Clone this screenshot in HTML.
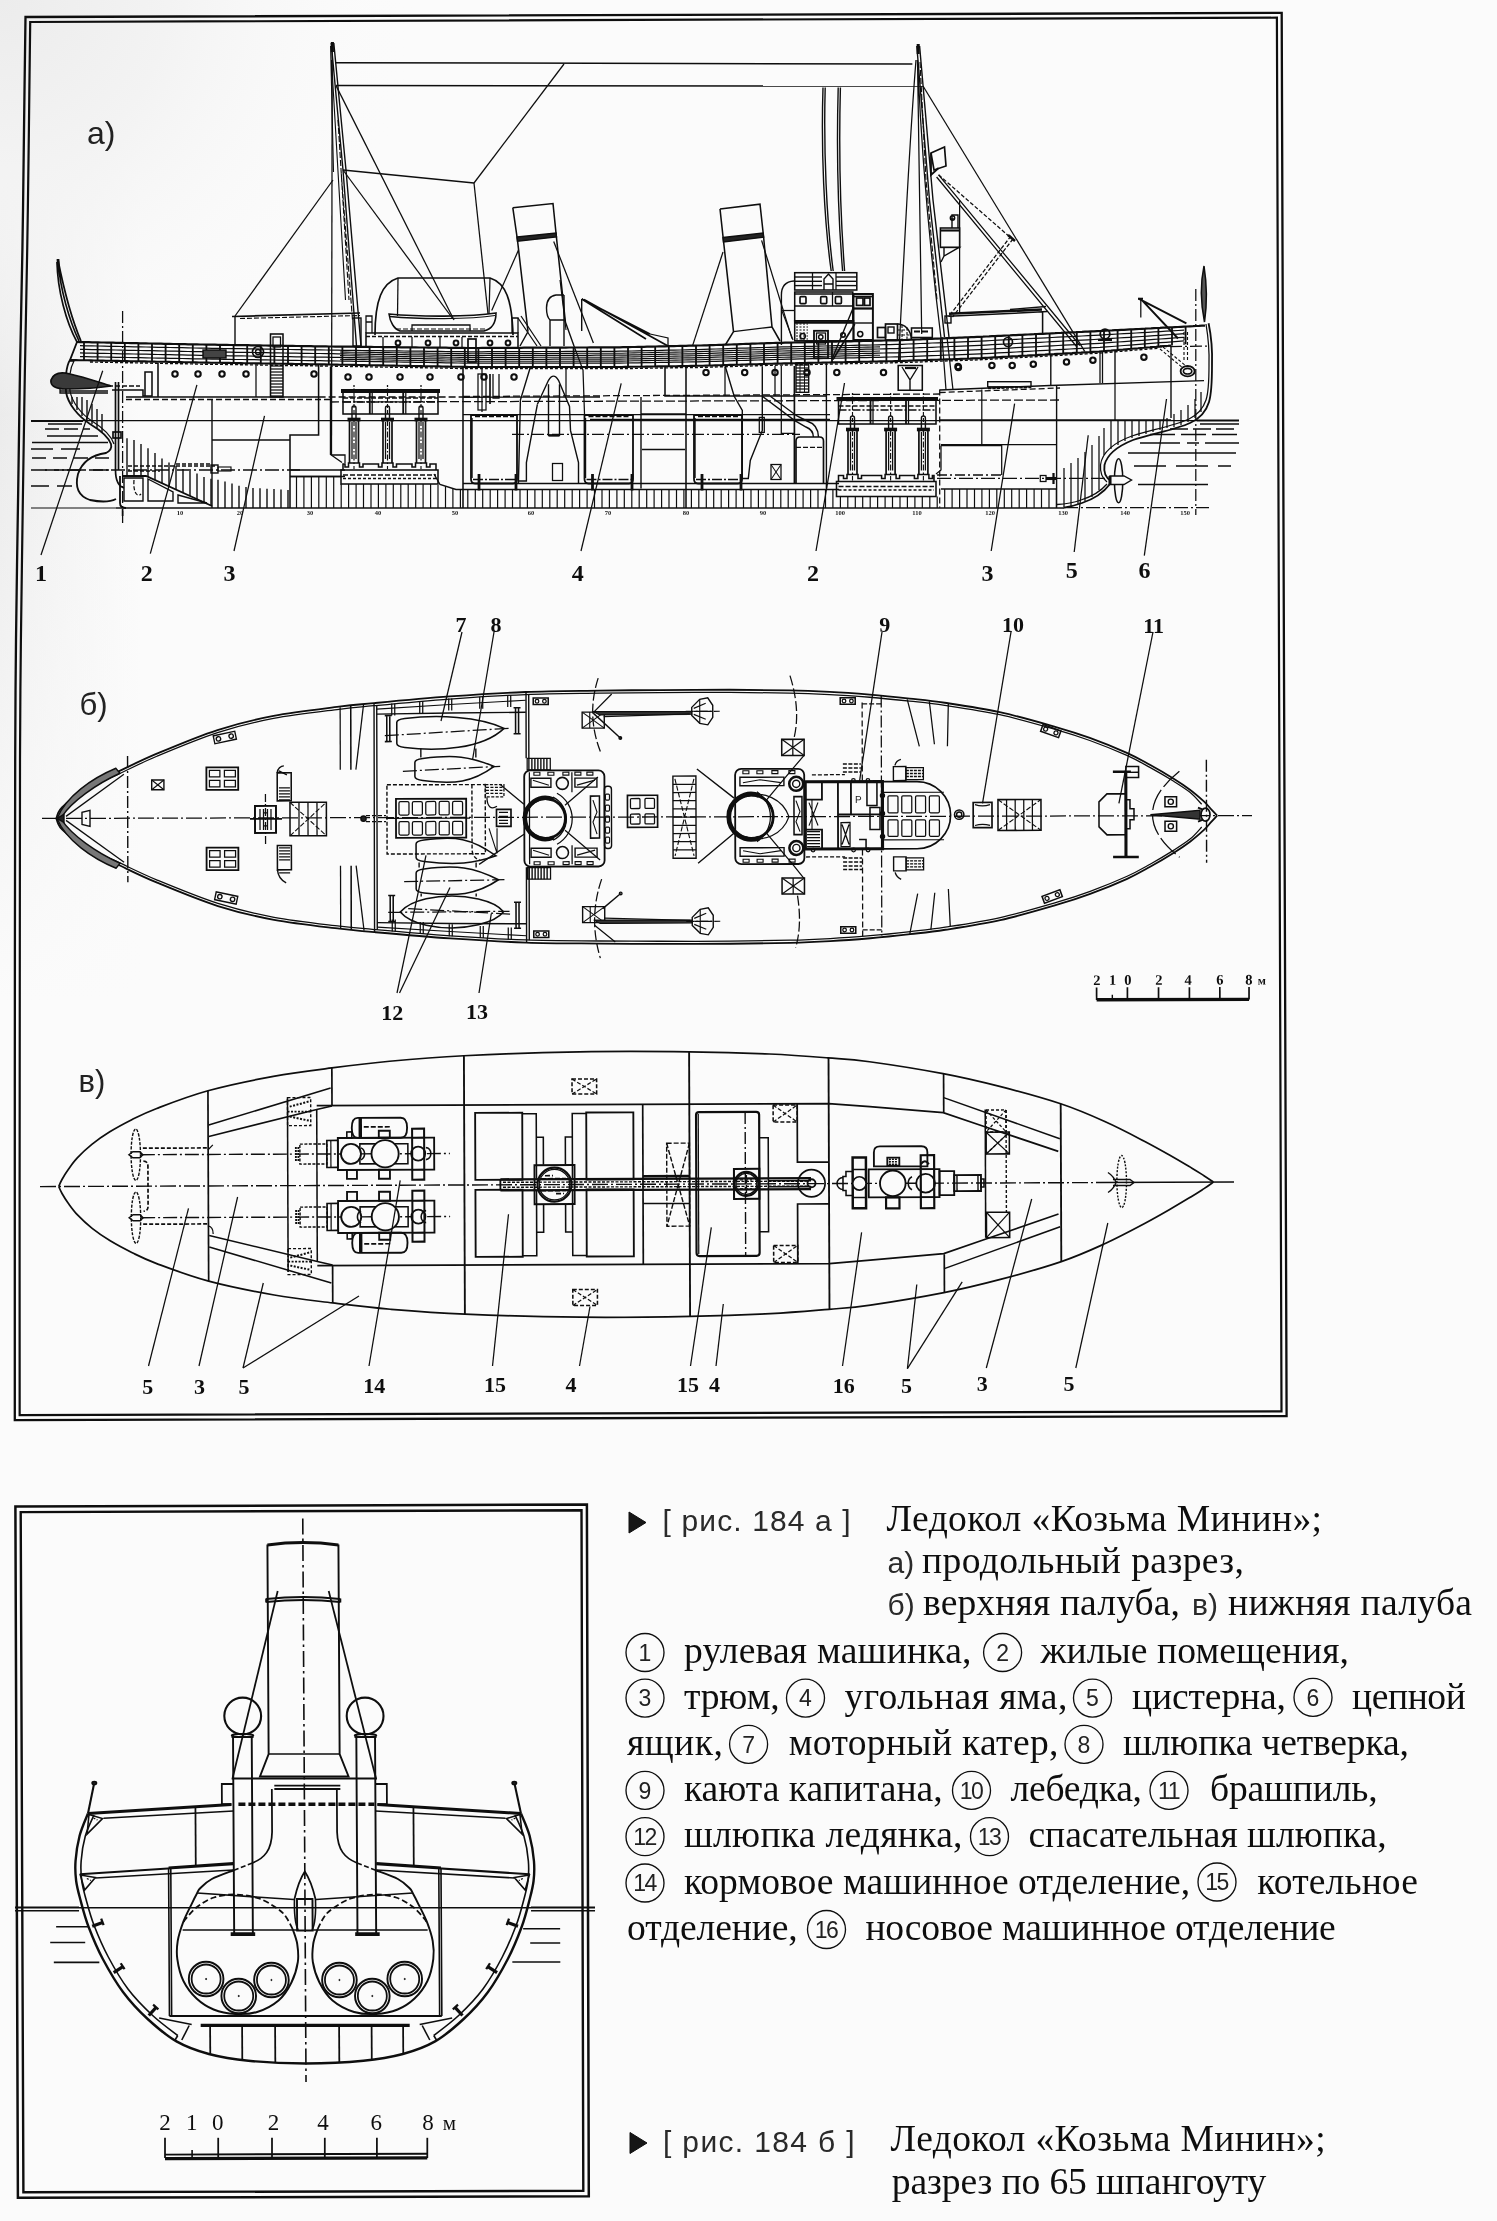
<!DOCTYPE html>
<html lang="ru"><head><meta charset="utf-8"><title>Ледокол «Козьма Минин»</title>
<style>
html,body{margin:0;padding:0;background:#fbfbfb;}
body{width:1497px;height:2221px;overflow:hidden;font-family:"Liberation Serif",serif;}
svg{display:block;filter:blur(0.35px);}
</style></head><body>
<svg width="1497" height="2221" viewBox="0 0 1497 2221">
<defs><linearGradient id="lg" x1="0" y1="0" x2="1" y2="0"><stop offset="0" stop-color="#ebebeb"/><stop offset="0.45" stop-color="#f3f3f3"/><stop offset="1" stop-color="#fbfbfb"/></linearGradient>
<linearGradient id="vg" x1="0" y1="0" x2="0" y2="1"><stop offset="0" stop-color="#fbfbfb" stop-opacity="0"/><stop offset="1" stop-color="#fbfbfb" stop-opacity="1"/></linearGradient>
<radialGradient id="rg" gradientUnits="userSpaceOnUse" cx="0" cy="0" r="420"><stop offset="0" stop-color="#ececec"/><stop offset="0.4" stop-color="#f3f3f3"/><stop offset="1" stop-color="#fbfbfb" stop-opacity="0"/></radialGradient></defs>
<rect x="0" y="0" width="1497" height="2221" fill="#fbfbfb" stroke="none"/>
<rect x="0" y="0" width="140" height="1000" fill="url(#lg)" stroke="none"/>
<rect x="0" y="400" width="140" height="600" fill="url(#vg)" stroke="none"/>
<rect x="0" y="0" width="420" height="420" fill="url(#rg)" stroke="none"/>
<g fill="none" stroke="#0e0e0e" stroke-width="1">
<g >
<path d="M14.8 1420.1C14.8 1383.4 14.8 1278.3 14.8 1200C14.8 1121.7 14.8 1023.3 14.9 950C15 876.7 15 811.7 15.2 760C15.4 708.3 15.5 685 16 640C16.5 595 17.5 535 18.2 490C18.9 445 19.3 410 20 370C20.7 330 21.7 290 22.4 250C23.1 210 23.5 168.8 24 130C24.5 91.2 25.2 35.8 25.5 17L1281.7 12.9 L1286.6 1416 Z" stroke-width="2.3"/>
<path d="M19.65 1415.1C19.6 1379.2 19.6 1277.5 19.6 1200C19.7 1122.5 19.7 1023.3 19.8 950C19.8 876.7 19.9 811.7 20 760C20.2 708.3 20.4 685 20.9 640C21.4 595 22.4 535 23 490C23.7 445 24.2 410 24.9 370C25.6 330 26.6 290 27.2 250C27.9 210 28.4 168 28.9 130C29.3 92 30 40 30.2 22L1276.9 17.7 L1281.5 1411.3 Z" stroke-width="2.2"/>
<path d="M15.4 1506.5L586.9 1504.6L588.8 2196.3L17.9 2197.8Z" stroke-width="2.5"/>
<path d="M20.7 1512.1L581.5 1510.2L583.3 2190.8L23.4 2192.3Z" stroke-width="2.4"/>
</g>
<g >
<path d="M31 421L83 421" stroke-width="2.24"/>
<path d="M83 420.6L1197 420.6" stroke-width="1.26"/>
<path d="M48 424L82 424" stroke-width="1.26"/>
<path d="M45 429L90 429" stroke-width="1.26" stroke-dasharray="14 5"/>
<path d="M47 436L98 436" stroke-width="1.26"/>
<path d="M32 442.5L108 442.5" stroke-width="1.26"/>
<path d="M31 449L80 449" stroke-width="1.26" stroke-dasharray="22 8"/>
<path d="M32 458L110 458" stroke-width="1.26" stroke-dasharray="14 7"/>
<path d="M31 470L112 470" stroke-width="1.26" stroke-dasharray="16 7 30 9"/>
<path d="M31 486L72 486" stroke-width="1.26" stroke-dasharray="18 8"/>
<path d="M1197 420.5L1239 420.5" stroke-width="2.24"/>
<path d="M1200 424L1239 424" stroke-width="1.26"/>
<path d="M1170 429L1239 429" stroke-width="1.26" stroke-dasharray="18 5"/>
<path d="M1150 434.5L1239 434.5" stroke-width="1.26" stroke-dasharray="25 6"/>
<path d="M1140 443L1239 443" stroke-width="1.26" stroke-dasharray="40 7 12 6"/>
<path d="M1128 453L1236 453" stroke-width="1.26"/>
<path d="M1134 466L1231 466" stroke-width="1.26" stroke-dasharray="32 10"/>
<path d="M1138 484.5L1208 484.5" stroke-width="1.26"/>
<path d="M116 508L1064 508" stroke-width="1.4"/>
<path d="M31 508L116 508" stroke-width="1.12"/>
<path d="M1064 507.7L1209 507.7" stroke-width="1.26" stroke-dasharray="14 3 2 3"/>
<path d="M122.6 311L122.6 526" stroke-width="1.26" stroke-dasharray="12 3 2 3"/>
<path d="M1195.8 289L1195.8 515" stroke-width="1.26" stroke-dasharray="12 3 2 3"/>
<path d="M77 342L80 342.1L83 342.1L86 342.2L89 342.2L92 342.3L95 342.4L98 342.4L101 342.5L104 342.5L107 342.6L110 342.7L113 342.7L116 342.8L119 342.9L122 342.9L125 343L128 343L131 343.1L134 343.2L137 343.2L140 343.3L143 343.3L146 343.4L149 343.5L152 343.5L155 343.6L158 343.6L161 343.7L164 343.8L167 343.8L170 343.9L173 344L176 344L179 344.1L182 344.1L185 344.2L188 344.3L191 344.3L194 344.4L197 344.4L200 344.5L203 344.5L206 344.6L209 344.6L212 344.7L215 344.7L218 344.8L221 344.8L224 344.9L227 344.9L230 345L233 345L236 345.1L239 345.1L242 345.1L245 345.2L248 345.2L251 345.3L254 345.3L257 345.4L260 345.4L263 345.5L266 345.5L269 345.6L272 345.6L275 345.7L278 345.7L281 345.7L284 345.8L287 345.8L290 345.9L293 345.9L296 346L299 346L302 346.1L305 346.1L308 346.2L311 346.2L314 346.3L317 346.3L320 346.3L323 346.4L326 346.4L329 346.5L332 346.5L335 346.6L338 346.6L341 346.6L344 346.6L347 346.7L350 346.7L353 346.7L356 346.8L359 346.8L362 346.8L365 346.9L368 346.9L371 346.9L374 347L377 347L380 347L383 347.1L386 347.1L389 347.1L392 347.2L395 347.2L398 347.2L401 347.3L404 347.3L407 347.3L410 347.4L413 347.4L416 347.4L419 347.5L422 347.5L425 347.5L428 347.6L431 347.6L434 347.6L437 347.6L440 347.7L443 347.7L446 347.7L449 347.8L452 347.8L455 347.8L458 347.9L461 347.9L464 347.9L467 348L470 348L473 348L476 348L479 348L482 347.9L485 347.9L488 347.9L491 347.9L494 347.9L497 347.9L500 347.9L503 347.8L506 347.8L509 347.8L512 347.8L515 347.8L518 347.8L521 347.8L524 347.7L527 347.7L530 347.7L533 347.7L536 347.7L539 347.7L542 347.7L545 347.6L548 347.6L551 347.6L554 347.6L557 347.6L560 347.6L563 347.6L566 347.6L569 347.5L572 347.5L575 347.5L578 347.5L581 347.5L584 347.5L587 347.5L590 347.4L593 347.4L596 347.4L599 347.4L602 347.4L605 347.4L608 347.4L611 347.3L614 347.3L617 347.3L620 347.3L623 347.2L626 347.2L629 347.1L632 347L635 347L638 346.9L641 346.8L644 346.8L647 346.7L650 346.6L653 346.6L656 346.5L659 346.4L662 346.4L665 346.3L668 346.2L671 346.2L674 346.1L677 346L680 345.9L683 345.9L686 345.8L689 345.7L692 345.7L695 345.6L698 345.5L701 345.5L704 345.4L707 345.3L710 345.2L713 345.1L716 345L719 344.9L722 344.8L725 344.7L728 344.6L731 344.5L734 344.4L737 344.3L740 344.1L743 344L746 343.9L749 343.8L752 343.7L755 343.6L758 343.5L761 343.4L764 343.3L767 343.2L770 343.1L773 343L776 342.9L779 342.8L782 342.8L785 342.7L788 342.6L791 342.6L794 342.5L797 342.4L800 342.4L803 342.3L806 342.2L809 342.2L812 342.1L815 342L818 342L821 341.9L824 341.8L827 341.8L830 341.7L833 341.7L836 341.6L839 341.5L842 341.5L845 341.4L848 341.3L851 341.3L854 341.2L857 341.1L860 341.1L863 341L866 340.9L869 340.9L872 340.8L875 340.7L878 340.7L881 340.6L884 340.5L887 340.5L890 340.4L893 340.4L896 340.3L899 340.2L902 340.1L905 340L908 339.9L911 339.7L914 339.6L917 339.5L920 339.4L923 339.2L926 339.1L929 339L932 338.8L935 338.7L938 338.6L941 338.5L944 338.3L947 338.2L950 338.1L953 337.9L956 337.8L959 337.7L962 337.6L965 337.4L968 337.3L971 337.2L974 337.1L977 336.9L980 336.8L983 336.7L986 336.5L989 336.4L992 336.2L995 336.1L998 335.9L1001 335.8L1004 335.6L1007 335.5L1010 335.4L1013 335.2L1016 335.1L1019 334.9L1022 334.8L1025 334.6L1028 334.5L1031 334.3L1034 334.2L1037 334L1040 333.9L1043 333.8L1046 333.6L1049 333.5L1052 333.3L1055 333.2L1058 333L1061 332.9L1064 332.7L1067 332.6L1070 332.4L1073 332.3L1076 332.2L1079 332L1082 331.9L1085 331.7L1088 331.6L1091 331.4L1094 331.3L1097 331.1L1100 331L1103 330.8L1106 330.7L1109 330.5L1112 330.4L1115 330.2L1118 330.1L1121 329.9L1124 329.8L1127 329.6L1130 329.4L1133 329.3L1136 329.1L1139 329L1142 328.8L1145 328.7L1148 328.5L1151 328.4L1154 328.2L1157 328L1160 327.9L1163 327.7L1166 327.6L1169 327.4L1172 327.3L1175 327.1L1178 327L1181 326.8L1184 326.6L1187 326.5L1190 326.3L1193 326.2L1196 326L1199 325.9L1202 325.7L1205 325.6" stroke-width="2.24"/>
<path d="M70 360L73 360.1L76 360.1L79 360.2L82 360.2L85 360.3L88 360.3L91 360.4L94 360.5L97 360.5L100 360.6L103 360.6L106 360.7L109 360.8L112 360.8L115 360.9L118 360.9L121 361L124 361L127 361.1L130 361.2L133 361.2L136 361.3L139 361.3L142 361.4L145 361.4L148 361.5L151 361.6L154 361.6L157 361.7L160 361.7L163 361.8L166 361.8L169 361.9L172 362L175 362L178 362.1L181 362.1L184 362.2L187 362.2L190 362.3L193 362.4L196 362.4L199 362.5L202 362.5L205 362.6L208 362.6L211 362.7L214 362.7L217 362.8L220 362.8L223 362.9L226 362.9L229 362.9L232 363L235 363L238 363.1L241 363.1L244 363.2L247 363.2L250 363.3L253 363.3L256 363.4L259 363.4L262 363.5L265 363.5L268 363.5L271 363.6L274 363.6L277 363.7L280 363.7L283 363.8L286 363.8L289 363.9L292 363.9L295 364L298 364L301 364.1L304 364.1L307 364.1L310 364.2L313 364.2L316 364.3L319 364.3L322 364.4L325 364.4L328 364.5L331 364.5L334 364.6L337 364.6L340 364.7L343 364.7L346 364.8L349 364.8L352 364.9L355 364.9L358 365L361 365.1L364 365.1L367 365.2L370 365.2L373 365.3L376 365.3L379 365.4L382 365.4L385 365.5L388 365.5L391 365.6L394 365.6L397 365.7L400 365.8L403 365.8L406 365.9L409 365.9L412 366L415 366L418 366.1L421 366.1L424 366.2L427 366.2L430 366.3L433 366.3L436 366.4L439 366.4L442 366.5L445 366.6L448 366.6L451 366.7L454 366.7L457 366.8L460 366.8L463 366.9L466 366.9L469 367L472 367L475 367L478 367L481 367L484 367L487 367L490 367L493 367L496 367L499 367L502 367L505 367L508 367L511 367L514 367L517 367L520 367L523 367L526 367L529 367L532 367L535 367L538 367L541 367L544 367L547 367L550 367L553 367L556 367L559 367L562 367L565 367L568 367L571 367L574 367L577 367L580 367L583 367L586 367L589 367L592 367L595 367L598 367L601 367L604 367L607 367L610 367L613 367L616 367L619 367L622 367L625 366.9L628 366.9L631 366.8L634 366.8L637 366.7L640 366.7L643 366.7L646 366.6L649 366.6L652 366.5L655 366.5L658 366.4L661 366.4L664 366.3L667 366.3L670 366.2L673 366.2L676 366.2L679 366.1L682 366.1L685 366L688 366L691 365.9L694 365.9L697 365.8L700 365.8L703 365.7L706 365.6L709 365.5L712 365.5L715 365.4L718 365.3L721 365.2L724 365.1L727 365L730 364.9L733 364.9L736 364.8L739 364.7L742 364.6L745 364.5L748 364.4L751 364.3L754 364.2L757 364.2L760 364.1L763 364L766 363.9L769 363.8L772 363.7L775 363.6L778 363.6L781 363.5L784 363.4L787 363.4L790 363.3L793 363.2L796 363.2L799 363.1L802 363L805 363L808 362.9L811 362.9L814 362.8L817 362.7L820 362.7L823 362.6L826 362.5L829 362.5L832 362.4L835 362.4L838 362.3L841 362.2L844 362.2L847 362.1L850 362L853 362L856 361.9L859 361.9L862 361.8L865 361.7L868 361.7L871 361.6L874 361.5L877 361.5L880 361.4L883 361.4L886 361.3L889 361.2L892 361.2L895 361.1L898 361L901 361L904 360.9L907 360.8L910 360.6L913 360.5L916 360.4L919 360.3L922 360.2L925 360.1L928 360L931 359.9L934 359.8L937 359.7L940 359.6L943 359.5L946 359.4L949 359.3L952 359.2L955 359.1L958 359L961 358.9L964 358.8L967 358.7L970 358.6L973 358.4L976 358.3L979 358.2L982 358.1L985 357.9L988 357.8L991 357.6L994 357.4L997 357.3L1000 357.1L1003 356.9L1006 356.7L1009 356.6L1012 356.4L1015 356.2L1018 356.1L1021 355.9L1024 355.7L1027 355.6L1030 355.4L1033 355.2L1036 355.1L1039 354.9L1042 354.7L1045 354.6L1048 354.4L1051 354.2L1054 354.1L1057 353.9L1060 353.7L1063 353.6L1066 353.4L1069 353.2L1072 353.1L1075 352.9L1078 352.7L1081 352.6L1084 352.4L1087 352.2L1090 352.1L1093 351.9L1096 351.7L1099 351.6L1102 351.3L1105 351.1L1108 350.8L1111 350.6L1114 350.3L1117 350.1L1120 349.8L1123 349.6L1126 349.3L1129 349L1132 348.8L1135 348.5L1138 348.3L1141 348L1144 347.8L1147 347.5L1150 347.3L1153 347L1156 346.8L1159 346.5L1162 346.3L1165 346L1168 345.8L1171 345.5" stroke-width="2.1"/>
<path d="M80 345.7L86 345.8L92 345.9L98 346L104 346.2L110 346.3L116 346.4L122 346.5L128 346.7L134 346.8L140 346.9L146 347L152 347.1L158 347.3L164 347.4L170 347.5L176 347.6L182 347.7L188 347.9L194 348L200 348.1L206 348.2L212 348.3L218 348.4L224 348.5L230 348.6L236 348.7L242 348.7L248 348.8L254 348.9L260 349L266 349.1L272 349.2L278 349.3L284 349.4L290 349.5L296 349.6L302 349.7L308 349.8L314 349.9L320 349.9L326 350L332 350.1L338 350.2L344 350.3L350 350.3L356 350.4L362 350.5L368 350.6L374 350.6L380 350.7L386 350.8L392 350.9L398 350.9L404 351L410 351.1L416 351.1L422 351.2L428 351.3L434 351.4L440 351.4L446 351.5L452 351.6L458 351.7L464 351.7L470 351.8L476 351.8L482 351.8L488 351.7L494 351.7L500 351.7L506 351.7L512 351.6L518 351.6L524 351.6L530 351.6L536 351.6L542 351.5L548 351.5L554 351.5L560 351.5L566 351.4L572 351.4L578 351.4L584 351.4L590 351.4L596 351.3L602 351.3L608 351.3L614 351.3L620 351.2L626 351.1L632 351L638 350.9L644 350.7L650 350.6L656 350.5L662 350.4L668 350.2L674 350.1L680 350L686 349.9L692 349.7L698 349.6L704 349.4L710 349.2L716 349L722 348.8L728 348.6L734 348.4L740 348.2L746 348.1L752 347.9L758 347.7L764 347.5L770 347.3L776 347.1L782 346.9L788 346.8L794 346.6L800 346.5L806 346.4L812 346.3L818 346.1L824 346L830 345.9L836 345.7L842 345.6L848 345.5L854 345.3L860 345.2L866 345.1L872 345L878 344.8L884 344.7L890 344.6L896 344.4L902 344.3L908 344L914 343.8L920 343.5L926 343.3L932 343L938 342.8L944 342.6L950 342.3L956 342.1L962 341.8L968 341.6L974 341.3L980 341.1L986 340.8L992 340.5L998 340.2L1004 339.9L1010 339.6L1016 339.3L1022 339L1028 338.7L1034 338.4L1040 338.1L1046 337.8L1052 337.5L1058 337.2L1064 336.9L1070 336.6L1076 336.3L1082 336L1088 335.7L1094 335.4L1100 335.1L1106 334.7L1112 334.4L1118 334L1124 333.7L1130 333.3L1136 333L1142 332.6L1148 332.3L1154 331.9L1160 331.6L1166 331.2L1172 330.9L1178 330.5L1184 330.2" stroke-width="1.19"/>
<path d="M80 349.3L86 349.4L92 349.6L98 349.7L104 349.8L110 349.9L116 350L122 350.1L128 350.3L134 350.4L140 350.5L146 350.6L152 350.7L158 350.9L164 351L170 351.1L176 351.2L182 351.3L188 351.5L194 351.6L200 351.7L206 351.8L212 351.9L218 352L224 352.1L230 352.2L236 352.3L242 352.3L248 352.4L254 352.5L260 352.6L266 352.7L272 352.8L278 352.9L284 353L290 353.1L296 353.2L302 353.3L308 353.4L314 353.5L320 353.5L326 353.6L332 353.7L338 353.8L344 353.9L350 354L356 354.1L362 354.1L368 354.2L374 354.3L380 354.4L386 354.5L392 354.5L398 354.6L404 354.7L410 354.8L416 354.9L422 354.9L428 355L434 355.1L440 355.2L446 355.3L452 355.4L458 355.4L464 355.5L470 355.6L476 355.6L482 355.6L488 355.5L494 355.5L500 355.5L506 355.5L512 355.5L518 355.5L524 355.4L530 355.4L536 355.4L542 355.4L548 355.4L554 355.4L560 355.3L566 355.3L572 355.3L578 355.3L584 355.3L590 355.3L596 355.2L602 355.2L608 355.2L614 355.2L620 355.2L626 355.1L632 354.9L638 354.8L644 354.7L650 354.6L656 354.5L662 354.4L668 354.2L674 354.1L680 354L686 353.9L692 353.8L698 353.7L704 353.5L710 353.3L716 353.1L722 352.9L728 352.7L734 352.5L740 352.3L746 352.2L752 352L758 351.8L764 351.6L770 351.4L776 351.2L782 351L788 350.9L794 350.8L800 350.7L806 350.5L812 350.4L818 350.3L824 350.1L830 350L836 349.9L842 349.8L848 349.6L854 349.5L860 349.4L866 349.2L872 349.1L878 349L884 348.9L890 348.7L896 348.6L902 348.4L908 348.2L914 348L920 347.7L926 347.5L932 347.3L938 347L944 346.8L950 346.5L956 346.3L962 346.1L968 345.8L974 345.6L980 345.4L986 345.1L992 344.7L998 344.4L1004 344.1L1010 343.8L1016 343.5L1022 343.2L1028 342.9L1034 342.6L1040 342.3L1046 342L1052 341.7L1058 341.4L1064 341L1070 340.7L1076 340.4L1082 340.1L1088 339.8L1094 339.5L1100 339.2L1106 338.8L1112 338.4L1118 338L1124 337.6L1130 337.3L1136 336.9L1142 336.5L1148 336.1L1154 335.7L1160 335.3L1166 334.9L1172 334.5L1178 334.1L1184 333.7" stroke-width="1.19"/>
<path d="M80 352.9L86 353.1L92 353.2L98 353.3L104 353.4L110 353.5L116 353.6L122 353.8L128 353.9L134 354L140 354.1L146 354.2L152 354.4L158 354.5L164 354.6L170 354.7L176 354.8L182 354.9L188 355.1L194 355.2L200 355.3L206 355.4L212 355.5L218 355.6L224 355.7L230 355.8L236 355.9L242 355.9L248 356L254 356.1L260 356.2L266 356.3L272 356.4L278 356.5L284 356.6L290 356.7L296 356.8L302 356.9L308 357L314 357.1L320 357.1L326 357.2L332 357.3L338 357.4L344 357.5L350 357.6L356 357.7L362 357.8L368 357.9L374 358L380 358.1L386 358.1L392 358.2L398 358.3L404 358.4L410 358.5L416 358.6L422 358.7L428 358.8L434 358.9L440 358.9L446 359L452 359.1L458 359.2L464 359.3L470 359.4L476 359.4L482 359.4L488 359.4L494 359.4L500 359.3L506 359.3L512 359.3L518 359.3L524 359.3L530 359.3L536 359.3L542 359.3L548 359.3L554 359.2L560 359.2L566 359.2L572 359.2L578 359.2L584 359.2L590 359.2L596 359.2L602 359.2L608 359.1L614 359.1L620 359.1L626 359L632 358.9L638 358.8L644 358.7L650 358.6L656 358.5L662 358.4L668 358.3L674 358.1L680 358L686 357.9L692 357.8L698 357.7L704 357.6L710 357.4L716 357.2L722 357L728 356.8L734 356.6L740 356.4L746 356.3L752 356.1L758 355.9L764 355.7L770 355.5L776 355.3L782 355.2L788 355.1L794 354.9L800 354.8L806 354.7L812 354.5L818 354.4L824 354.3L830 354.2L836 354L842 353.9L848 353.8L854 353.7L860 353.5L866 353.4L872 353.3L878 353.1L884 353L890 352.9L896 352.8L902 352.6L908 352.4L914 352.1L920 351.9L926 351.7L932 351.5L938 351.2L944 351L950 350.8L956 350.6L962 350.3L968 350.1L974 349.9L980 349.6L986 349.3L992 349L998 348.7L1004 348.4L1010 348.1L1016 347.7L1022 347.4L1028 347.1L1034 346.8L1040 346.5L1046 346.2L1052 345.8L1058 345.5L1064 345.2L1070 344.9L1076 344.6L1082 344.3L1088 343.9L1094 343.6L1100 343.3L1106 342.9L1112 342.4L1118 342L1124 341.6L1130 341.2L1136 340.7L1142 340.3L1148 339.9L1154 339.4L1160 339L1166 338.6L1172 338.2L1178 337.7L1184 337.3" stroke-width="1.19"/>
<path d="M80 356.6L86 356.7L92 356.8L98 356.9L104 357L110 357.1L116 357.3L122 357.4L128 357.5L134 357.6L140 357.7L146 357.8L152 358L158 358.1L164 358.2L170 358.3L176 358.4L182 358.5L188 358.7L194 358.8L200 358.9L206 359L212 359.1L218 359.2L224 359.3L230 359.4L236 359.5L242 359.5L248 359.6L254 359.7L260 359.8L266 359.9L272 360L278 360.1L284 360.2L290 360.3L296 360.4L302 360.5L308 360.6L314 360.7L320 360.7L326 360.8L332 360.9L338 361L344 361.1L350 361.2L356 361.3L362 361.4L368 361.5L374 361.6L380 361.7L386 361.8L392 361.9L398 362L404 362.1L410 362.2L416 362.3L422 362.4L428 362.5L434 362.6L440 362.7L446 362.8L452 362.9L458 363L464 363.1L470 363.2L476 363.2L482 363.2L488 363.2L494 363.2L500 363.2L506 363.2L512 363.2L518 363.2L524 363.1L530 363.1L536 363.1L542 363.1L548 363.1L554 363.1L560 363.1L566 363.1L572 363.1L578 363.1L584 363.1L590 363.1L596 363.1L602 363.1L608 363.1L614 363.1L620 363.1L626 363L632 362.9L638 362.8L644 362.7L650 362.6L656 362.5L662 362.4L668 362.3L674 362.2L680 362.1L686 362L692 361.9L698 361.8L704 361.6L710 361.4L716 361.3L722 361.1L728 360.9L734 360.7L740 360.5L746 360.4L752 360.2L758 360L764 359.8L770 359.7L776 359.5L782 359.3L788 359.2L794 359.1L800 358.9L806 358.8L812 358.7L818 358.6L824 358.4L830 358.3L836 358.2L842 358.1L848 357.9L854 357.8L860 357.7L866 357.6L872 357.4L878 357.3L884 357.2L890 357L896 356.9L902 356.8L908 356.5L914 356.3L920 356.1L926 355.9L932 355.7L938 355.5L944 355.2L950 355L956 354.8L962 354.6L968 354.4L974 354.1L980 353.9L986 353.6L992 353.3L998 352.9L1004 352.6L1010 352.3L1016 352L1022 351.6L1028 351.3L1034 351L1040 350.7L1046 350.3L1052 350L1058 349.7L1064 349.4L1070 349L1076 348.7L1082 348.4L1088 348.1L1094 347.7L1100 347.4L1106 346.9L1112 346.5L1118 346L1124 345.5L1130 345.1L1136 344.6L1142 344.1L1148 343.7L1154 343.2L1160 342.7L1166 342.3L1172 341.8L1178 341.3L1184 340.8" stroke-width="1.19"/>
<path d="M340 352L346 352.1L352 352.2L358 352.3L364 352.3L370 352.4L376 352.5L382 352.6L388 352.6L394 352.7L400 352.8L406 352.9L412 353L418 353L424 353.1L430 353.2L436 353.3L442 353.3L448 353.4L454 353.5L460 353.6L466 353.6L472 353.7L478 353.7L484 353.7L490 353.6L496 353.6L502 353.6L508 353.6L514 353.6L520 353.5L526 353.5L532 353.5L538 353.5L544 353.5L550 353.4L556 353.4L562 353.4L568 353.4L574 353.4L580 353.3L586 353.3L592 353.3L598 353.3L604 353.3L610 353.2L616 353.2L622 353.2L628 353L634 352.9L640 352.8L646 352.7L652 352.6L658 352.4L664 352.3L670 352.2L676 352.1L682 352L688 351.8L694 351.7L700 351.6L706 351.4L712 351.2L718 351L724 350.8L730 350.6L736 350.4L742 350.2L748 350L754 349.8L760 349.7L766 349.5L772 349.3L778 349.1L784 348.9L790 348.8L796 348.7L802 348.5L808 348.4L814 348.3L820 348.2L826 348L832 347.9L838 347.8L844 347.6L850 347.5L856 347.4L862 347.3L868 347.1L874 347L880 346.9" stroke-width="1.12"/>
<path d="M340 355.6L346 355.7L352 355.8L358 355.9L364 356L370 356.1L376 356.2L382 356.2L388 356.3L394 356.4L400 356.5L406 356.6L412 356.7L418 356.8L424 356.8L430 356.9L436 357L442 357.1L448 357.2L454 357.3L460 357.4L466 357.4L472 357.5L478 357.5L484 357.5L490 357.5L496 357.4L502 357.4L508 357.4L514 357.4L520 357.4L526 357.4L532 357.4L538 357.3L544 357.3L550 357.3L556 357.3L562 357.3L568 357.3L574 357.3L580 357.2L586 357.2L592 357.2L598 357.2L604 357.2L610 357.2L616 357.2L622 357.1L628 357L634 356.9L640 356.8L646 356.7L652 356.5L658 356.4L664 356.3L670 356.2L676 356.1L682 356L688 355.9L694 355.8L700 355.6L706 355.5L712 355.3L718 355.1L724 354.9L730 354.7L736 354.5L742 354.3L748 354.1L754 354L760 353.8L766 353.6L772 353.4L778 353.2L784 353.1L790 352.9L796 352.8L802 352.7L808 352.6L814 352.4L820 352.3L826 352.2L832 352L838 351.9L844 351.8L850 351.7L856 351.5L862 351.4L868 351.3L874 351.2L880 351" stroke-width="1.12"/>
<path d="M340 359.3L346 359.4L352 359.4L358 359.5L364 359.6L370 359.7L376 359.8L382 359.9L388 360L394 360.1L400 360.2L406 360.3L412 360.4L418 360.5L424 360.6L430 360.7L436 360.8L442 360.9L448 361L454 361L460 361.1L466 361.2L472 361.3L478 361.3L484 361.3L490 361.3L496 361.3L502 361.3L508 361.2L514 361.2L520 361.2L526 361.2L532 361.2L538 361.2L544 361.2L550 361.2L556 361.2L562 361.2L568 361.2L574 361.2L580 361.1L586 361.1L592 361.1L598 361.1L604 361.1L610 361.1L616 361.1L622 361.1L628 361L634 360.8L640 360.7L646 360.6L652 360.5L658 360.4L664 360.3L670 360.2L676 360.1L682 360L688 359.9L694 359.8L700 359.7L706 359.5L712 359.3L718 359.2L724 359L730 358.8L736 358.6L742 358.4L748 358.3L754 358.1L760 357.9L766 357.7L772 357.5L778 357.4L784 357.2L790 357.1L796 357L802 356.8L808 356.7L814 356.6L820 356.4L826 356.3L832 356.2L838 356.1L844 355.9L850 355.8L856 355.7L862 355.6L868 355.4L874 355.3L880 355.2" stroke-width="1.12"/>
<path d="M84 342.1V360.3M97.6 342.4V360.5M111.2 342.7V360.8M124.8 343V361.1M138.4 343.2V361.3M152 343.5V361.6M165.6 343.8V361.8M179.2 344.1V362.1M192.8 344.4V362.4M206.4 344.6V362.6M220 344.8V362.8M233.6 345V363M247.2 345.2V363.2M260.8 345.4V363.4M274.4 345.6V363.6M288 345.9V363.9M301.6 346.1V364.1M315.2 346.3V364.3M328.8 346.5V364.5M342.4 346.6V364.7M356 346.8V365M369.6 346.9V365.2M383.2 347.1V365.4M396.8 347.2V365.7M410.4 347.4V365.9M424 347.5V366.2M437.6 347.7V366.4M451.2 347.8V366.7M464.8 347.9V366.9M478.4 348V367M492 347.9V367M505.6 347.8V367M519.2 347.8V367M532.8 347.7V367M546.4 347.6V367M560 347.6V367M573.6 347.5V367M587.2 347.5V367M600.8 347.4V367M614.4 347.3V367M628 347.1V366.9M641.6 346.8V366.7M655.2 346.5V366.5M668.8 346.2V366.3M682.4 345.9V366.1M696 345.6V365.9M709.6 345.2V365.5M723.2 344.7V365.1M736.8 344.3V364.7M750.4 343.8V364.4M764 343.3V364M777.6 342.9V363.6M791.2 342.6V363.3M804.8 342.3V363M818.4 342V362.7M832 341.7V362.4M845.6 341.4V362.1M859.2 341.1V361.8M872.8 340.8V361.6M886.4 340.5V361.3M900 340.2V361M913.6 339.6V360.5M927.2 339V360M940.8 338.5V359.6M954.4 337.9V359.1M968 337.3V358.6M981.6 336.7V358.1M995.2 336.1V357.4M1008.8 335.4V356.6M1022.4 334.8V355.8M1036 334.1V355.1M1049.6 333.4V354.3M1063.2 332.8V353.6M1076.8 332.1V352.8M1090.4 331.5V352M1104 330.8V351.2M1117.6 330.1V350M1131.2 329.4V348.9M1144.8 328.7V347.7M1158.4 328V346.6M1172 327.3V345.4M1185.6 326.6V344.3" stroke-width="1.82"/>
<path d="M90 362L96 362.1L102 362.2L108 362.3L114 362.4L120 362.6L126 362.7L132 362.8L138 362.9L144 363L150 363.1L156 363.3L162 363.4L168 363.5L174 363.6L180 363.7L186 363.8L192 363.9L198 364.1L204 364.2L210 364.3L216 364.3L222 364.4L228 364.5L234 364.6L240 364.7L246 364.8L252 364.9L258 365L264 365.1L270 365.2L276 365.3L282 365.4L288 365.5L294 365.5L300 365.6L306 365.7L312 365.8L318 365.9L324 366L330 366.1L336 366.2L342 366.3L348 366.4L354 366.5L360 366.6L366 366.7L372 366.9L378 367L384 367.1L390 367.2L396 367.3L402 367.4L408 367.5L414 367.6L420 367.7L426 367.8L432 367.9L438 368L444 368.1L450 368.2L456 368.4L462 368.5L468 368.6L474 368.6L480 368.6L486 368.6L492 368.6L498 368.6L504 368.6L510 368.6L516 368.6L522 368.6L528 368.6L534 368.6L540 368.6L546 368.6L552 368.6L558 368.6L564 368.6L570 368.6L576 368.6L582 368.6L588 368.6L594 368.6L600 368.6L606 368.6L612 368.6L618 368.6L624 368.5L630 368.5L636 368.4L642 368.3L648 368.2L654 368.1L660 368L666 367.9L672 367.8L678 367.7L684 367.6L690 367.6L696 367.5L702 367.3L708 367.2L714 367L720 366.8L726 366.7L732 366.5L738 366.3L744 366.1L750 366L756 365.8L762 365.6L768 365.4L774 365.3L780 365.1L786 365L792 364.9L798 364.7L804 364.6L810 364.5L816 364.4L822 364.2L828 364.1L834 364L840 363.9L846 363.7L852 363.6L858 363.5L864 363.4L870 363.2L876 363.1L882 363L888 362.9L894 362.7L900 362.6L906 362.4L912 362.2L918 362L924 361.8L930 361.6L936 361.3L942 361.1L948 360.9L954 360.7L960 360.5L966 360.3L972 360.1L978 359.9L984 359.6L990 359.2L996 358.9L1002 358.6L1008 358.2L1014 357.9L1020 357.6L1026 357.2L1032 356.9L1038 356.6L1044 356.2L1050 355.9L1056 355.6L1062 355.2L1068 354.9L1074 354.6L1080 354.2L1086 353.9L1092 353.5L1098 353.2L1104 352.8L1110 352.3L1116 351.7L1122 351.2L1128 350.7L1134 350.2L1140 349.7L1146 349.2L1152 348.7L1158 348.2" stroke-width="1.4" stroke-dasharray="3 2"/>
<path d="M58 260 C60 290 70 322 79 341 M58 260 C64 290 72 320 81 341 M57 262 C57.5 290 66 322 77 342" stroke-width="1.68"/>
<path d="M58 259L58.5 270" stroke-width="2.8"/>
<path d="M77 342 L70 360 C66 366 65 380 66 392 C68 404 78 416 90 424 C100 430 108 436 111 444 C112 448 110 451 106 453 C92 455 82 462 78 474 C75 486 78 496 90 500 C100 502 110 502 116 499" stroke-width="1.82"/>
<path d="M70 361 L74 361 C70 368 69 380 70 391 C72 402 81 414 92 421 C103 428 111 435 114 444" stroke-width="1.26"/>
<path d="M51 380 C54 372 62 372 70 374 C84 377 98 382 111 386 C98 388 80 389 66 389 C56 389 50 386 51 380 Z" fill="#3a3a3a" stroke-width="1.68"/>
<path d="M60 391L108 391" stroke-width="1.68"/>
<path d="M60 389 V393 H108" stroke-width="1.26"/>
<path d="M115.5 382 V470 C115.5 480 118 486 124 488 M118.5 382 V470" stroke-width="1.68"/>
<rect x="113" y="432" width="8" height="6" stroke-width="1.68"/>
<path d="M108 386L140 386" stroke-width="1.68" stroke-dasharray="5 2"/>
<path d="M112 390 H143 V396 H152 V372 H145 V396" stroke-width="1.54"/>
<path d="M120 476 V503 C120 506 122 508 126 508" stroke-width="1.82"/>
<path d="M124 478 H143 V501 H124 Z" stroke-width="1.4"/>
<path d="M148 479 L173 492 V501 H148 Z" stroke-width="1.4"/>
<path d="M178 495 L207 503 H178 Z" stroke-width="1.4"/>
<path d="M123 476 H146 L212 506" stroke-width="1.82"/>
<path d="M134 480 C133 492 137 498 141 494" stroke-width="1.26" stroke-dasharray="4 2"/>
<path d="M72 397L72 404" stroke-width="1.4"/>
<path d="M77 397L77 410" stroke-width="1.4"/>
<path d="M82 397L82 416" stroke-width="1.4"/>
<path d="M87 400L87 420" stroke-width="1.4"/>
<path d="M92 404L92 424" stroke-width="1.4"/>
<path d="M97 409L97 428" stroke-width="1.4"/>
<path d="M102 414L102 432" stroke-width="1.4"/>
<path d="M127 438.2L127 476" stroke-width="1.4"/>
<path d="M134 440L134 476" stroke-width="1.4"/>
<path d="M141 444.1L141 476" stroke-width="1.4"/>
<path d="M148 448.2L148 476.9" stroke-width="1.4"/>
<path d="M155 453.1L155 480.1" stroke-width="1.4"/>
<path d="M162 458.5L162 483.3" stroke-width="1.4"/>
<path d="M169 462.5L169 486.5" stroke-width="1.4"/>
<path d="M176 466L176 489.6" stroke-width="1.4"/>
<path d="M183 468.9L183 492.8" stroke-width="1.4"/>
<path d="M190 470.9L190 496" stroke-width="1.4"/>
<path d="M197 473.5L197 499.2" stroke-width="1.4"/>
<path d="M204 477L204 502.4" stroke-width="1.4"/>
<path d="M211 478.7L211 505.5" stroke-width="1.4"/>
<path d="M218 479.7L218 508" stroke-width="1.4"/>
<path d="M225 481.5L225 508" stroke-width="1.4"/>
<path d="M232 483.6L232 508" stroke-width="1.4"/>
<path d="M239 485.7L239 508" stroke-width="1.4"/>
<path d="M246 486.9L246 508" stroke-width="1.4"/>
<path d="M253 487.9L253 508" stroke-width="1.4"/>
<path d="M260 488.3L260 508" stroke-width="1.4"/>
<path d="M267 488.7L267 508" stroke-width="1.4"/>
<path d="M274 489.1L274 508" stroke-width="1.4"/>
<path d="M281 489.5L281 508" stroke-width="1.4"/>
<path d="M288 489.9L288 508" stroke-width="1.4"/>
<path d="M45 470L300 470" stroke-width="1.26" stroke-dasharray="14 3 2 3"/>
<path d="M128 466 H215 M128 471 H160 M176 464 H212" stroke-width="1.26" stroke-dasharray="4 2"/>
<rect x="211" y="465" width="7" height="8" stroke-width="1.4"/>
<rect x="218" y="467" width="13" height="4" stroke-width="1.12"/>
<path d="M158 363 V397 M158 397 H318.6 M318.6 365 V435 H290 V508" stroke-width="1.54"/>
<path d="M126 397L158 397" stroke-width="1.54"/>
<path d="M126 399.5L330 399.5" stroke-width="1.26" stroke-dasharray="6 3"/>
<path d="M256 366L256 397" stroke-width="1.26"/>
<circle cx="175" cy="374" r="2.7" stroke-width="2.1"/>
<circle cx="198" cy="374" r="2.7" stroke-width="2.1"/>
<circle cx="222" cy="374" r="2.7" stroke-width="2.1"/>
<circle cx="246" cy="374" r="2.7" stroke-width="2.1"/>
<circle cx="314" cy="374" r="2.7" stroke-width="2.1"/>
<rect x="270.5" y="334" width="12.5" height="63" stroke-width="1.54"/>
<rect x="273" y="337" width="7.5" height="10" stroke-width="1.26"/>
<path d="M271 366L283 366" stroke-width="1.26"/>
<path d="M271 369L283 369" stroke-width="1.26"/>
<path d="M271 372L283 372" stroke-width="1.26"/>
<path d="M271 375L283 375" stroke-width="1.26"/>
<path d="M271 378L283 378" stroke-width="1.26"/>
<path d="M271 381L283 381" stroke-width="1.26"/>
<path d="M271 384L283 384" stroke-width="1.26"/>
<path d="M271 387L283 387" stroke-width="1.26"/>
<path d="M271 390L283 390" stroke-width="1.26"/>
<path d="M271 393L283 393" stroke-width="1.26"/>
<path d="M271 396L283 396" stroke-width="1.26"/>
<circle cx="258" cy="352" r="5.5" stroke-width="1.68"/>
<circle cx="258" cy="352" r="2.5" stroke-width="1.4"/>
<rect x="203" y="350" width="23" height="8" fill="#444" stroke-width="1.4"/>
<path d="M212 399L212 508" stroke-width="1.4"/>
<path d="M212 440L290 440" stroke-width="1.26"/>
<path d="M290 470L345 470" stroke-width="1.26"/>
<path d="M290 476.5L345 476.5" stroke-width="1.26"/>
<path d="M122 470L122 470" stroke-width="1.4"/>
<path d="M235 316L235 346" stroke-width="1.4"/>
<path d="M232 316.5L360 313" stroke-width="1.68"/>
<path d="M240 318.5L360 315.5" stroke-width="1.12" stroke-dasharray="5 2"/>
<path d="M331.2 43 L343 170 L356.5 346 M333.8 43 L346 170 L361 346" stroke-width="1.4"/>
<path d="M332.4 42L332.4 52" stroke-width="3.08"/>
<path d="M332.2 52L331.5 455" stroke-width="1.26"/>
<path d="M330.6 46 L333.5 172 M331.5 60 L345.5 300" stroke-width="1.12"/>
<path d="M338 120 L349 300 M341 170 L352.5 320" stroke-width="1.12" stroke-dasharray="6 2"/>
<path d="M331.5 455 H345 V463" stroke-width="1.26"/>
<rect x="353" y="318" width="8" height="28" stroke-width="1.4"/>
<path d="M335 62.7L912.4 64" stroke-width="1.54"/>
<path d="M336 85.6L923 86.1" stroke-width="1.54"/>
<path d="M336 85.6L454 320" stroke-width="1.26"/>
<path d="M343 170L453 319" stroke-width="1.26"/>
<path d="M343 170L474 183" stroke-width="1.26"/>
<path d="M474 183L564 64" stroke-width="1.26"/>
<path d="M474 183L488 314" stroke-width="1.26"/>
<path d="M333 180L235 316" stroke-width="1.26"/>
<path d="M375 335 C375 300 382 283 398 278 H490 C506 283 512 300 513 335" stroke-width="1.68"/>
<path d="M398 278L397.5 316" stroke-width="1.26"/>
<path d="M490 278L489 314" stroke-width="1.26"/>
<path d="M389 314 C420 317 470 317 496 313 C496 322 492 329 484 331 H400 C394 329 390 322 389 314 Z" stroke-width="1.54"/>
<path d="M390 316.5 C420 319.5 470 319.5 495 315.5" stroke-width="1.26"/>
<path d="M396 329 H486" stroke-width="1.12" stroke-dasharray="5 2"/>
<path d="M412 331 V325 H470 V331" stroke-width="1.26"/>
<path d="M366 348 V333 H518 V348" stroke-width="1.54"/>
<path d="M366 336.5L518 336.5" stroke-width="1.26" stroke-dasharray="4 2"/>
<circle cx="398" cy="343" r="2.4" stroke-width="1.96"/>
<circle cx="428" cy="343" r="2.4" stroke-width="1.96"/>
<circle cx="456" cy="343" r="2.4" stroke-width="1.96"/>
<circle cx="490" cy="343" r="2.4" stroke-width="1.96"/>
<circle cx="508" cy="343" r="2.4" stroke-width="1.96"/>
<rect x="468" y="339" width="8" height="23" stroke-width="1.68"/>
<path d="M383 337L383 348" stroke-width="1.26"/>
<path d="M412 337L412 348" stroke-width="1.26"/>
<path d="M440 337L440 348" stroke-width="1.26"/>
<path d="M462 337L462 348" stroke-width="1.26"/>
<path d="M366 333 V316 H372 V333 M372 322 H366" stroke-width="1.26"/>
<path d="M512 333 V318 H518 V333" stroke-width="1.26"/>
<path d="M518 318 L537 346 M521 316 L541 346" stroke-width="1.26"/>
<path d="M512.8 207.7 L553 203.5 L556.3 236 L565.4 322 M512.8 207.7 L517.4 239.5 L528 331.6" stroke-width="1.54"/>
<path d="M517 237 L556 233 L556.5 237 L517.5 241.3 Z" fill="#222" stroke-width="1.4"/>
<path d="M528 331.6 L520 346 M565.4 322 L574 346" stroke-width="1.4"/>
<path d="M518.6 249.8L491.7 310.6" stroke-width="1.26"/>
<path d="M553.7 241.6L593.4 343" stroke-width="1.26"/>
<path d="M560 280 L566 330" stroke-width="1.12"/>
<path d="M564 295 H556 C549 296 546.5 302 546.5 308 C546.5 314 548 318 550 320 V346 M564 295 V346 M550 320 H564" stroke-width="1.4"/>
<path d="M581.7 299 L650 334 M581.7 299 L646 339 M584 299.5 L668 346" stroke-width="1.68"/>
<path d="M581.7 299L581.7 331" stroke-width="1.4"/>
<path d="M650 334 L668 338 V346" stroke-width="1.26"/>
<path d="M720 208.9 L760 204.2 L763.5 236 L772 327 L780 341 M720 208.9 L723.4 240 L733.5 331.6 L725.3 345" stroke-width="1.54"/>
<path d="M723 237.5 L763 233 L763.6 237.2 L723.5 242 Z" fill="#222" stroke-width="1.4"/>
<path d="M733.5 331.6L772 327" stroke-width="1.26"/>
<path d="M723 252L692.6 345.6" stroke-width="1.26"/>
<path d="M761.6 240.4L792 338.6" stroke-width="1.26"/>
<path d="M781.4 345 V295 C781.4 286 786 281.5 794 281" stroke-width="1.4"/>
<path d="M781.4 310.5L794 310.5" stroke-width="1.26"/>
<path d="M782 311L793 340" stroke-width="1.12"/>
<rect x="794.7" y="272.7" width="62.1" height="17.3" stroke-width="1.54"/>
<path d="M794.7 277L822 277" stroke-width="1.4"/>
<path d="M836 277L856.8 277" stroke-width="1.4"/>
<path d="M794.7 281.3L822 281.3" stroke-width="1.4"/>
<path d="M836 281.3L856.8 281.3" stroke-width="1.4"/>
<path d="M794.7 285.6L822 285.6" stroke-width="1.4"/>
<path d="M836 285.6L856.8 285.6" stroke-width="1.4"/>
<path d="M812.5 272.7L812.5 290" stroke-width="1.26"/>
<path d="M836 272.7L836 290" stroke-width="1.26"/>
<path d="M824 290 V279 L828.5 274 L833 279 V290 M824 284 H833" stroke-width="1.4"/>
<rect x="794.7" y="292" width="58.1" height="28.8" stroke-width="1.54"/>
<path d="M794.7 294L852.8 294" stroke-width="1.26"/>
<rect x="800" y="296.7" width="6" height="6.9" rx="1" stroke-width="1.68"/>
<rect x="820.7" y="296.7" width="6" height="6.9" rx="1" stroke-width="1.68"/>
<rect x="835.4" y="296.7" width="6" height="6.9" rx="1" stroke-width="1.68"/>
<path d="M832.5 292L832.5 306" stroke-width="1.26"/>
<path d="M794.7 306L852.8 306" stroke-width="1.26"/>
<rect x="853.5" y="294" width="19.4" height="46" stroke-width="1.96"/>
<path d="M853.5 296.5L872.9 296.5" stroke-width="1.68"/>
<rect x="856.5" y="298" width="6.5" height="7.4" stroke-width="1.68"/>
<rect x="864.5" y="298" width="5.5" height="7.4" stroke-width="1.68"/>
<path d="M853.5 308.5L872.9 308.5" stroke-width="2.24"/>
<path d="M853.5 323L872.9 323" stroke-width="1.4"/>
<path d="M794.7 320.8 H853.5 M794.7 322.8 H853.5" stroke-width="1.82"/>
<rect x="794.7" y="320.8" width="58.8" height="20" stroke-width="1.54"/>
<rect x="814" y="330.8" width="14" height="27.4" stroke-width="1.82"/>
<rect x="816.5" y="333" width="9" height="11" stroke-width="1.26"/>
<circle cx="802.7" cy="336.2" r="2.6" stroke-width="1.54"/>
<circle cx="820.8" cy="337" r="2.2" stroke-width="1.4"/>
<circle cx="860.2" cy="334.1" r="2.6" stroke-width="1.54"/>
<circle cx="843" cy="335" r="2.2" stroke-width="1.68"/>
<path d="M852.8 308.8L832.1 358.9" stroke-width="1.4"/>
<path d="M854.8 324L833 359.5" stroke-width="1.68"/>
<path d="M796 324L808 324" stroke-width="1.12" stroke-dasharray="2 1.5"/>
<path d="M796 327L808 327" stroke-width="1.12" stroke-dasharray="2 1.5"/>
<path d="M796 330L808 330" stroke-width="1.12" stroke-dasharray="2 1.5"/>
<path d="M796 333L808 333" stroke-width="1.12" stroke-dasharray="2 1.5"/>
<path d="M796 336L808 336" stroke-width="1.12" stroke-dasharray="2 1.5"/>
<path d="M796 339L808 339" stroke-width="1.12" stroke-dasharray="2 1.5"/>
<rect x="796" y="362.9" width="12.7" height="29.4" stroke-width="1.4"/>
<path d="M796 365L808.7 365" stroke-width="1.26"/>
<path d="M796 368L808.7 368" stroke-width="1.26"/>
<path d="M796 371L808.7 371" stroke-width="1.26"/>
<path d="M796 374L808.7 374" stroke-width="1.26"/>
<path d="M796 377L808.7 377" stroke-width="1.26"/>
<path d="M796 380L808.7 380" stroke-width="1.26"/>
<path d="M796 383L808.7 383" stroke-width="1.26"/>
<path d="M796 386L808.7 386" stroke-width="1.26"/>
<path d="M796 389L808.7 389" stroke-width="1.26"/>
<path d="M800 363L800 392" stroke-width="0.98"/>
<path d="M804.5 363L804.5 392" stroke-width="0.98"/>
<path d="M823 87.5 C821 150 824 220 831.2 271 M825.2 87.5 C823.5 150 826.5 220 833.2 271" stroke-width="1.4"/>
<path d="M838.2 87.5 C836.5 150 838 215 842.6 271 M840.4 87.5 C838.8 150 840.3 215 844.6 271" stroke-width="1.4"/>
<rect x="877.5" y="327.5" width="8" height="10" stroke-width="1.68"/>
<rect x="885.5" y="324" width="12" height="16" stroke-width="1.68"/>
<rect x="888" y="327" width="6" height="6" stroke-width="1.4"/>
<path d="M897.5 324 C905 324 911 330 911.5 340" stroke-width="1.54"/>
<path d="M897.5 330 H908 M897.5 335 H911 M902 325 V340 M907 327.5 V340" stroke-width="1.12" stroke-dasharray="3 1.5"/>
<rect x="911.5" y="328" width="20.8" height="9.5" stroke-width="1.54"/>
<path d="M914 331.5L930 331.5" stroke-width="1.96" stroke-dasharray="6 2"/>
<path d="M918.2 44L918.2 54" stroke-width="3.08"/>
<path d="M916.8 46 L929.5 200 L944.5 337 M919.6 46 L933 200 L949 337" stroke-width="1.4"/>
<path d="M916 60 C908 160 904 260 898.4 362 M917.5 60 L921.7 334 M918 70 C922 160 930 250 941 338" stroke-width="1.26"/>
<path d="M920 62 L926 180 L937 300" stroke-width="1.12" stroke-dasharray="6 2"/>
<path d="M923 86L1084.7 351.3" stroke-width="1.26"/>
<path d="M931 153 L944.5 147 L946 166 L934 170 Z" stroke-width="1.68"/>
<path d="M931 153 V175 L938.6 168" stroke-width="1.82"/>
<path d="M938.6 174.8 L1080 345.5 M936.6 177 L1077 347" stroke-width="1.26"/>
<path d="M938.6 174.8L1011 238" stroke-width="1.26" stroke-dasharray="4 2"/>
<path d="M1011 236 L950.3 314.5 M1013 239 L952.5 317" stroke-width="1.26" stroke-dasharray="4 2"/>
<path d="M1008 235L1015 241" stroke-width="2.52"/>
<path d="M959.6 200.5L959.6 312.8" stroke-width="1.26"/>
<rect x="940.4" y="228" width="19.2" height="19.4" stroke-width="1.54"/>
<path d="M940.4 230.5L959.6 230.5" stroke-width="2.1"/>
<path d="M940.4 247.4 H959 L944 256 V247.4 M944 256 L941 262" stroke-width="1.4"/>
<path d="M952 228 V215 H958 V228 M950 219 H954" stroke-width="1.4"/>
<circle cx="952.5" cy="218" r="2.2" stroke-width="1.4"/>
<path d="M948.5 316.3 L1047.3 311.6 M1042.6 311.6 V333" stroke-width="1.54"/>
<path d="M949 313.8L1042 309.6" stroke-width="2.52"/>
<path d="M1010 309.5L1046 306.5" stroke-width="1.26"/>
<rect x="945" y="316" width="6" height="7" stroke-width="1.4"/>
<path d="M942 337 L946 390 M947 337 L953 390" stroke-width="1.26"/>
<path d="M1138.5 298.7 L1186.4 323.3 M1140.5 298.7 L1178 338.5" stroke-width="1.96"/>
<path d="M1140.8 298.7L1140.8 317.4" stroke-width="1.26"/>
<path d="M1138 298.7L1143 298.7" stroke-width="1.96"/>
<path d="M1204 266 C1200 285 1201 305 1204.5 322 C1207 305 1207 285 1204 266 Z" fill="#555" stroke-width="1.54"/>
<path d="M1208.6 323.3 C1211 335 1212.5 350 1212 365 C1212 380 1212 392 1209 402 C1206 412 1199 419 1190 423 C1175 430 1150 434 1133 440 C1118 446 1107 455 1104.5 465 C1103.5 472 1106 478 1111 481" stroke-width="1.82"/>
<path d="M1206 324 C1208 336 1209.5 350 1209 365 C1209 380 1209 391 1206 400 C1203 409 1197 415 1189 419 C1174 426 1150 430 1132 436 C1115 442 1102 452 1100.5 465 C1100 472 1102 478 1107 482" stroke-width="1.26"/>
<path d="M1110 484 C1104 492 1094 499 1082 503 C1075 505.5 1069 507 1063.7 507.7" stroke-width="1.82"/>
<path d="M1107 484 C1101 491 1092 496.5 1081 500 C1074 502.5 1066 504 1057 504.5" stroke-width="1.26"/>
<ellipse cx="1118.6" cy="480.8" rx="4.2" ry="22" stroke-width="1.54"/>
<path d="M1110 476 H1124 L1131.5 480 L1124 484.5 H1110 Z" fill="#fbfbfb" stroke-width="1.4"/>
<path d="M1110 476 V485" stroke-width="3.08"/>
<ellipse cx="1187.6" cy="371.2" rx="7" ry="5.2" stroke-width="1.82"/>
<ellipse cx="1187.6" cy="371.2" rx="4.2" ry="2.8" stroke-width="1.68"/>
<path d="M1160 349 L1183 368 M1163 347 L1186 366" stroke-width="1.12" stroke-dasharray="3 2"/>
<path d="M1184 332 V362 M1187.5 332 V362" stroke-width="1.12" stroke-dasharray="3 2"/>
<path d="M1150 347L1208 346" stroke-width="1.26" stroke-dasharray="12 3 2 3"/>
<path d="M939.7 390 L1050 385.5 L1204 380.6" stroke-width="1.4"/>
<path d="M939.7 392.5L1060 388" stroke-width="1.26" stroke-dasharray="6 3"/>
<rect x="987.7" y="381.7" width="43.3" height="5.1" stroke-width="1.4"/>
<path d="M988 388.2L1031 387" stroke-width="2.24" stroke-dasharray="3 1.5"/>
<path d="M1050.8 354L1050.8 385.5" stroke-width="1.4"/>
<path d="M1100 351 V383 M1102.5 351 V383" stroke-width="1.26"/>
<path d="M1115 350L1115 383" stroke-width="1.4"/>
<path d="M1171 345.5 V418 M1160 346 H1171" stroke-width="1.4"/>
<path d="M1115 383L1115 420" stroke-width="1.26"/>
<circle cx="958" cy="366.5" r="2.7" stroke-width="2.1"/>
<circle cx="991.9" cy="365.4" r="2.7" stroke-width="2.1"/>
<circle cx="1012.2" cy="365.4" r="2.7" stroke-width="2.1"/>
<circle cx="1033.3" cy="364.2" r="2.7" stroke-width="2.1"/>
<circle cx="1066.5" cy="361.9" r="2.7" stroke-width="2.1"/>
<circle cx="1092.9" cy="360.2" r="2.7" stroke-width="2.1"/>
<circle cx="1143.9" cy="357.2" r="2.7" stroke-width="2.1"/>
<circle cx="1008" cy="342" r="4.5" stroke-width="1.68"/>
<circle cx="1105" cy="334" r="4.8" stroke-width="1.82"/>
<path d="M1098 340 H1112" stroke-width="2.1"/>
<path d="M1064 468L1064 507" stroke-width="1.26"/>
<path d="M1071 463L1071 506" stroke-width="1.26"/>
<path d="M1078 458L1078 504" stroke-width="1.26"/>
<path d="M1085 452L1085 501" stroke-width="1.26"/>
<path d="M1092 445L1092 497" stroke-width="1.26"/>
<path d="M1099 436L1099 490" stroke-width="1.26"/>
<path d="M1104 428L1104 455" stroke-width="1.26"/>
<path d="M1111 420L1111 449" stroke-width="1.26"/>
<path d="M1118 420L1118 445" stroke-width="1.26"/>
<path d="M1125 420L1125 441" stroke-width="1.26"/>
<path d="M1132 420L1132 438" stroke-width="1.26"/>
<path d="M1139 420L1139 436" stroke-width="1.26"/>
<path d="M1146 420L1146 434" stroke-width="1.26"/>
<path d="M1153 420L1153 432" stroke-width="1.26"/>
<path d="M1160 420L1160 430" stroke-width="1.26"/>
<path d="M1167 418L1167 428" stroke-width="1.26"/>
<path d="M1174 414L1174 427" stroke-width="1.26"/>
<path d="M1181 410L1181 425" stroke-width="1.26"/>
<path d="M1188 405L1188 422" stroke-width="1.26"/>
<path d="M1195 399L1195 418" stroke-width="1.26"/>
<path d="M1201 392L1201 412" stroke-width="1.26"/>
<path d="M1056.6 420L1171 420" stroke-width="1.4"/>
</g>
<g >
<path d="M296.5 476.5V508M303.9 476.5V508M311.4 476.5V508M318.8 476.5V508M326.3 476.5V508M333.7 476.5V508M341.2 484V508M348.6 484V508M356.1 484V508M363.5 484V508M371 484V508M378.4 484V508M385.9 484V508M393.3 484V508M400.8 484V508M408.2 484V508M415.7 484V508M423.1 484V508M430.6 484V508M438 485V508M445.5 486.3V508M452.9 488.6V508M460.4 489.5V508M467.8 489.5V508M475.3 489.5V508M482.7 489.5V508M490.2 489.5V508M497.6 489.5V508M505.1 489.5V508M512.5 489.5V508M520 489.5V508M527.4 489.5V508M534.9 489.5V508M542.3 489.5V508M549.8 489.5V508M557.2 489.5V508M564.7 489.5V508M572.2 489.5V508M579.6 489.5V508M587.1 489.5V508M594.5 489.5V508M602 489.5V508M609.4 489.5V508M616.9 489.5V508M624.3 489.5V508M631.8 489.5V508M639.2 489.5V508M646.7 489.5V508M654.1 489.5V508M661.6 489.5V508M669 489.5V508M676.5 489.5V508M683.9 489.5V508M691.4 489.5V508M698.8 489.5V508M706.3 489.5V508M713.7 489.5V508M721.2 489.5V508M728.6 489.5V508M736.1 489.5V508M743.5 489.5V508M751 489.5V508M758.4 489.5V508M765.9 489.5V508M773.3 489.5V508M780.8 489.5V508M788.2 489.5V508M795.7 489.5V508M803.1 489.5V508M810.6 489.5V508M818 489.5V508M825.5 489.5V508M832.9 489.5V508M840.4 496.5V508M847.8 496.5V508M855.3 496.5V508M862.7 496.5V508M870.2 496.5V508M877.6 496.5V508M885.1 496.5V508M892.5 496.5V508M900 496.5V508M907.4 496.5V508M914.9 496.5V508M922.3 496.5V508M929.8 496.5V508M937.2 496.5V508M944.7 489V508M952.1 489V508M959.6 489V508M967 489V508M974.5 489V508M981.9 489V508M989.4 489V508M996.8 489V508M1004.3 489V508M1011.7 489V508M1019.2 489V508M1026.6 489V508M1034.1 489V508M1041.5 489V508M1049 489V508M1056.4 489V508" stroke-width="1.19"/>
<path d="M290 476.5L341 476.5" stroke-width="1.4"/>
<path d="M434 474 L440 484.5 L456 489.5 L839 489.5" stroke-width="1.4"/>
<path d="M463 483.5L839 483.5" stroke-width="1.26"/>
<path d="M941 489L1057 489" stroke-width="1.4"/>
<text x="180" y="515" font-family="&quot;Liberation Serif&quot;, serif" font-size="6.5" font-weight="bold" text-anchor="middle" fill="#222" stroke="none">10</text>
<text x="240" y="515" font-family="&quot;Liberation Serif&quot;, serif" font-size="6.5" font-weight="bold" text-anchor="middle" fill="#222" stroke="none">20</text>
<text x="310" y="515" font-family="&quot;Liberation Serif&quot;, serif" font-size="6.5" font-weight="bold" text-anchor="middle" fill="#222" stroke="none">30</text>
<text x="378" y="515" font-family="&quot;Liberation Serif&quot;, serif" font-size="6.5" font-weight="bold" text-anchor="middle" fill="#222" stroke="none">40</text>
<text x="455" y="515" font-family="&quot;Liberation Serif&quot;, serif" font-size="6.5" font-weight="bold" text-anchor="middle" fill="#222" stroke="none">50</text>
<text x="531" y="515" font-family="&quot;Liberation Serif&quot;, serif" font-size="6.5" font-weight="bold" text-anchor="middle" fill="#222" stroke="none">60</text>
<text x="608" y="515" font-family="&quot;Liberation Serif&quot;, serif" font-size="6.5" font-weight="bold" text-anchor="middle" fill="#222" stroke="none">70</text>
<text x="686" y="515" font-family="&quot;Liberation Serif&quot;, serif" font-size="6.5" font-weight="bold" text-anchor="middle" fill="#222" stroke="none">80</text>
<text x="763" y="515" font-family="&quot;Liberation Serif&quot;, serif" font-size="6.5" font-weight="bold" text-anchor="middle" fill="#222" stroke="none">90</text>
<text x="840" y="515" font-family="&quot;Liberation Serif&quot;, serif" font-size="6.5" font-weight="bold" text-anchor="middle" fill="#222" stroke="none">100</text>
<text x="917" y="515" font-family="&quot;Liberation Serif&quot;, serif" font-size="6.5" font-weight="bold" text-anchor="middle" fill="#222" stroke="none">110</text>
<text x="990" y="515" font-family="&quot;Liberation Serif&quot;, serif" font-size="6.5" font-weight="bold" text-anchor="middle" fill="#222" stroke="none">120</text>
<text x="1063" y="515" font-family="&quot;Liberation Serif&quot;, serif" font-size="6.5" font-weight="bold" text-anchor="middle" fill="#222" stroke="none">130</text>
<text x="1125" y="515" font-family="&quot;Liberation Serif&quot;, serif" font-size="6.5" font-weight="bold" text-anchor="middle" fill="#222" stroke="none">140</text>
<text x="1185" y="515" font-family="&quot;Liberation Serif&quot;, serif" font-size="6.5" font-weight="bold" text-anchor="middle" fill="#222" stroke="none">150</text>
<path d="M122.6 509L122.6 516" stroke-width="1.68"/>
<path d="M318.6 397L463 397" stroke-width="1.26" stroke-dasharray="7 3"/>
<path d="M330 402L1060 400" stroke-width="1.26" stroke-dasharray="9 3"/>
<path d="M463 396.5L940 394" stroke-width="1.26" stroke-dasharray="7 3"/>
<circle cx="348" cy="377" r="2.7" stroke-width="2.1"/>
<circle cx="369" cy="377" r="2.7" stroke-width="2.1"/>
<circle cx="400" cy="377" r="2.7" stroke-width="2.1"/>
<circle cx="430" cy="377" r="2.7" stroke-width="2.1"/>
<circle cx="461" cy="377" r="2.7" stroke-width="2.1"/>
<circle cx="484" cy="377" r="2.7" stroke-width="2.1"/>
<circle cx="514" cy="377" r="2.7" stroke-width="2.1"/>
<circle cx="706" cy="372.5" r="2.7" stroke-width="2.1"/>
<circle cx="744.7" cy="372.5" r="2.7" stroke-width="2.1"/>
<circle cx="775" cy="372.5" r="2.7" stroke-width="2.1"/>
<circle cx="807" cy="372.5" r="2.7" stroke-width="2.1"/>
<circle cx="836.8" cy="372.5" r="2.7" stroke-width="2.1"/>
<circle cx="883.5" cy="372.5" r="2.7" stroke-width="2.1"/>
<circle cx="958.4" cy="367.5" r="2.7" stroke-width="2.1"/>
<path d="M330.5 367 V454.5 L342 462.5" stroke-width="1.4"/>
<rect x="343" y="390" width="95" height="24" stroke-width="1.54"/>
<path d="M341 391L440 391" stroke-width="4.2"/>
<path d="M369.8 390L369.8 414" stroke-width="1.82"/>
<path d="M372.2 390L372.2 414" stroke-width="1.26"/>
<path d="M403.2 390L403.2 414" stroke-width="1.82"/>
<path d="M405.8 390L405.8 414" stroke-width="1.26"/>
<path d="M343 398L438 398" stroke-width="1.26" stroke-dasharray="5 2"/>
<path d="M343 402L438 402" stroke-width="1.26" stroke-dasharray="8 2 2 2"/>
<path d="M354 385L354 390" stroke-width="1.26" stroke-dasharray="2 1.5"/>
<path d="M354 392L354 414" stroke-width="1.12" stroke-dasharray="4 2"/>
<path d="M352 408V419 M356 408V419" stroke-width="1.4"/>
<path d="M352 408 A2 2 0 0 1 356 408" stroke-width="1.4"/>
<path d="M347.5 419.5L360.5 419.5" stroke-width="3.64"/>
<path d="M349.5 420V463 M358.5 420V463" stroke-width="1.68"/>
<path d="M352 422V459 M356 422V459" stroke-width="1.26"/>
<path d="M354 420L354 469" stroke-width="1.12" stroke-dasharray="6 2 1.5 2"/>
<path d="M387.5 385L387.5 390" stroke-width="1.26" stroke-dasharray="2 1.5"/>
<path d="M387.5 392L387.5 414" stroke-width="1.12" stroke-dasharray="4 2"/>
<path d="M385.5 408V419 M389.5 408V419" stroke-width="1.4"/>
<path d="M385.5 408 A2 2 0 0 1 389.5 408" stroke-width="1.4"/>
<path d="M381 419.5L394 419.5" stroke-width="3.64"/>
<path d="M383 420V463 M392 420V463" stroke-width="1.68"/>
<path d="M385.5 422V459 M389.5 422V459" stroke-width="1.26"/>
<path d="M387.5 420L387.5 469" stroke-width="1.12" stroke-dasharray="6 2 1.5 2"/>
<path d="M421 385L421 390" stroke-width="1.26" stroke-dasharray="2 1.5"/>
<path d="M421 392L421 414" stroke-width="1.12" stroke-dasharray="4 2"/>
<path d="M419 408V419 M423 408V419" stroke-width="1.4"/>
<path d="M419 408 A2 2 0 0 1 423 408" stroke-width="1.4"/>
<path d="M414.5 419.5L427.5 419.5" stroke-width="3.64"/>
<path d="M416.5 420V463 M425.5 420V463" stroke-width="1.68"/>
<path d="M419 422V459 M423 422V459" stroke-width="1.26"/>
<path d="M421 420L421 469" stroke-width="1.12" stroke-dasharray="6 2 1.5 2"/>
<path d="M343 470V464H345 V467 H348.5 V463 H359.5 V467 H363 V464H378.5 V467 H382 V463 H393 V467 H396.5 V464H412 V467 H415.5 V463 H426.5 V467 H430 V464H436 V470" stroke-width="1.54"/>
<rect x="341" y="470" width="97" height="14" stroke-width="1.54"/>
<path d="M343 475L436 475" stroke-width="1.4" stroke-dasharray="5 2"/>
<path d="M343 478.5L436 478.5" stroke-width="1.26" stroke-dasharray="3 2"/>
<path d="M463 367L463 508" stroke-width="1.54"/>
<rect x="478" y="374" width="8" height="36" stroke-width="1.26"/>
<path d="M493 374 V398 H499 V374" stroke-width="1.26"/>
<path d="M482 367L482 412" stroke-width="1.26"/>
<path d="M490 374L490 404" stroke-width="1.68"/>
<path d="M471 415 H517 V479 Q517 483.5 513 483.5 H475 Q471 483.5 471 479 Z" stroke-width="1.82"/>
<path d="M472 418L472 478" stroke-width="1.4"/>
<path d="M475 416.5L514 416.5" stroke-width="1.26" stroke-dasharray="5 2"/>
<path d="M473 479.5L515 479.5" stroke-width="1.26" stroke-dasharray="10 2 2 2"/>
<path d="M479 474L479 490.5" stroke-width="2.8"/>
<path d="M516 474L516 490.5" stroke-width="2.8"/>
<path d="M584.5 415 H633 V479 Q633 483.5 629 483.5 H588.5 Q584.5 483.5 584.5 479 Z" stroke-width="1.82"/>
<path d="M585.5 418L585.5 478" stroke-width="1.4"/>
<path d="M588.5 416.5L630 416.5" stroke-width="1.26" stroke-dasharray="5 2"/>
<path d="M586.5 479.5L631 479.5" stroke-width="1.26" stroke-dasharray="10 2 2 2"/>
<path d="M592.5 474L592.5 490.5" stroke-width="2.8"/>
<path d="M632 474L632 490.5" stroke-width="2.8"/>
<path d="M694 415 H742 V479 Q742 483.5 738 483.5 H698 Q694 483.5 694 479 Z" stroke-width="1.82"/>
<path d="M695 418L695 478" stroke-width="1.4"/>
<path d="M698 416.5L739 416.5" stroke-width="1.26" stroke-dasharray="5 2"/>
<path d="M696 479.5L740 479.5" stroke-width="1.26" stroke-dasharray="10 2 2 2"/>
<path d="M702 474L702 490.5" stroke-width="2.8"/>
<path d="M741 474L741 490.5" stroke-width="2.8"/>
<path d="M512 434.4L800 434.4" stroke-width="1.26" stroke-dasharray="12 3 2 3"/>
<path d="M590 419.3L830 419.3" stroke-width="1.26"/>
<path d="M463 414.6L830 414.6" stroke-width="1.26"/>
<path d="M463 397.2L600 397" stroke-width="1.4"/>
<path d="M530.4 367 L520.4 400 L518.4 484" stroke-width="1.4"/>
<path d="M537.4 404.3 L548.5 380.3 Q553.5 372 558.5 380.3 L569.5 406.4 L570.5 430.4 L578.5 462.5 V483" stroke-width="1.4"/>
<path d="M537.4 404.3 L532.4 430.4 L526.4 462.5 V481 H518.4" stroke-width="1.4"/>
<path d="M548.5 384.3 V435.4 H559.5 V384.3" stroke-width="1.4"/>
<path d="M548.5 435.4L559.5 435.4" stroke-width="2.52"/>
<rect x="552.5" y="463.5" width="10" height="17" stroke-width="1.26"/>
<path d="M574 346 L583 370 L584.5 414" stroke-width="1.26"/>
<path d="M566 367 V396" stroke-width="1.26"/>
<path d="M641 397L641 488.5" stroke-width="1.4"/>
<path d="M642 449.5L685 449.5" stroke-width="1.4"/>
<path d="M686 366L686 508" stroke-width="1.54"/>
<path d="M641 414L686 414" stroke-width="1.26"/>
<path d="M665 366 V396 H826" stroke-width="1.54"/>
<path d="M725 367L725 396" stroke-width="1.26"/>
<path d="M725.2 366.3 L734.2 396.3 L742.3 410.4 V478.5" stroke-width="1.4"/>
<path d="M762.3 366.3 V430.4 L750.3 460.5 L748.3 478.5 H742.3" stroke-width="1.4"/>
<rect x="759.3" y="417.4" width="5" height="15" stroke-width="1.26"/>
<path d="M762.3 396.3 L794.4 420.4 L806 427 Q813.4 430 813.4 437" stroke-width="1.4"/>
<path d="M770.3 396.3 L797 416 L808 421.5 Q818 424.5 818.5 437" stroke-width="1.4"/>
<path d="M796 483.5 V441 Q796 437 800 437 H819.5 Q823.5 437 823.5 441 V483.5" stroke-width="1.68"/>
<path d="M796 447.4L823.5 447.4" stroke-width="1.26" stroke-dasharray="5 2"/>
<rect x="771" y="464.5" width="10" height="15" stroke-width="1.26"/>
<path d="M771 464.5L781 479.5" stroke-width="1.01"/>
<path d="M771 479.5L781 464.5" stroke-width="1.01"/>
<path d="M781.3 366 V433.4 H794.4" stroke-width="1.26"/>
<path d="M794.4 366L794.4 483.5" stroke-width="1.68"/>
<path d="M826.4 362L826.4 488.5" stroke-width="1.4"/>
<path d="M775 366L775 396" stroke-width="1.26"/>
<rect x="838.5" y="398" width="97.5" height="26" stroke-width="1.54"/>
<path d="M836.5 399L938 399" stroke-width="4.2"/>
<path d="M870.5 398L870.5 424" stroke-width="1.82"/>
<path d="M873 398L873 424" stroke-width="1.26"/>
<path d="M906 398L906 424" stroke-width="1.82"/>
<path d="M908.5 398L908.5 424" stroke-width="1.26"/>
<path d="M838.5 406L936 406" stroke-width="1.26" stroke-dasharray="5 2"/>
<path d="M838.5 410L936 410" stroke-width="1.26" stroke-dasharray="8 2 2 2"/>
<path d="M852.5 393L852.5 398" stroke-width="1.26" stroke-dasharray="2 1.5"/>
<path d="M852.5 400L852.5 424" stroke-width="1.12" stroke-dasharray="4 2"/>
<path d="M850.5 418V429 M854.5 418V429" stroke-width="1.4"/>
<path d="M850.5 418 A2 2 0 0 1 854.5 418" stroke-width="1.4"/>
<path d="M846 429.5L859 429.5" stroke-width="3.64"/>
<path d="M848 430V474.5 M857 430V474.5" stroke-width="1.68"/>
<path d="M850.5 432V470.5 M854.5 432V470.5" stroke-width="1.26"/>
<path d="M852.5 430L852.5 480.5" stroke-width="1.12" stroke-dasharray="6 2 1.5 2"/>
<path d="M890.6 393L890.6 398" stroke-width="1.26" stroke-dasharray="2 1.5"/>
<path d="M890.6 400L890.6 424" stroke-width="1.12" stroke-dasharray="4 2"/>
<path d="M888.6 418V429 M892.6 418V429" stroke-width="1.4"/>
<path d="M888.6 418 A2 2 0 0 1 892.6 418" stroke-width="1.4"/>
<path d="M884.1 429.5L897.1 429.5" stroke-width="3.64"/>
<path d="M886.1 430V474.5 M895.1 430V474.5" stroke-width="1.68"/>
<path d="M888.6 432V470.5 M892.6 432V470.5" stroke-width="1.26"/>
<path d="M890.6 430L890.6 480.5" stroke-width="1.12" stroke-dasharray="6 2 1.5 2"/>
<path d="M923.4 393L923.4 398" stroke-width="1.26" stroke-dasharray="2 1.5"/>
<path d="M923.4 400L923.4 424" stroke-width="1.12" stroke-dasharray="4 2"/>
<path d="M921.4 418V429 M925.4 418V429" stroke-width="1.4"/>
<path d="M921.4 418 A2 2 0 0 1 925.4 418" stroke-width="1.4"/>
<path d="M916.9 429.5L929.9 429.5" stroke-width="3.64"/>
<path d="M918.9 430V474.5 M927.9 430V474.5" stroke-width="1.68"/>
<path d="M921.4 432V470.5 M925.4 432V470.5" stroke-width="1.26"/>
<path d="M923.4 430L923.4 480.5" stroke-width="1.12" stroke-dasharray="6 2 1.5 2"/>
<path d="M838.5 481.5V475.5H843.5 V478.5 H847 V474.5 H858 V478.5 H861.5 V475.5H881.6 V478.5 H885.1 V474.5 H896.1 V478.5 H899.6 V475.5H914.4 V478.5 H917.9 V474.5 H928.9 V478.5 H932.4 V475.5H934 V481.5" stroke-width="1.54"/>
<rect x="836.5" y="481.5" width="99.5" height="15" stroke-width="1.54"/>
<path d="M838.5 486.5L934 486.5" stroke-width="1.4" stroke-dasharray="5 2"/>
<path d="M838.5 490L934 490" stroke-width="1.26" stroke-dasharray="3 2"/>
<path d="M898.2 365.5 H922.3 V390.3 H898.2 Z" stroke-width="1.54"/>
<path d="M902 367 L910 380 V390 M918 367 L910 380" stroke-width="1.4"/>
<path d="M905 368L916 368" stroke-width="2.24"/>
<path d="M939.7 389.6L939.7 507.7" stroke-width="1.26" stroke-dasharray="6 3"/>
<path d="M981.8 389.6L981.8 444.6" stroke-width="1.26"/>
<path d="M939.7 420L1056.6 420" stroke-width="1.26"/>
<path d="M941 444.6L1056 444.6" stroke-width="1.4"/>
<path d="M941 445.7 H1001.7 V475 M941 445.7 V470 L936 474" stroke-width="1.26"/>
<path d="M1056.6 386L1056.6 507.7" stroke-width="1.4"/>
<path d="M937 478.3L1110 478.3" stroke-width="1.26" stroke-dasharray="14 3 2 3"/>
<path d="M937 475L1001 475" stroke-width="1.26" stroke-dasharray="10 3 2 3"/>
<rect x="1040.3" y="475.5" width="5.7" height="6" stroke-width="1.26"/>
<path d="M1046 478.5L1056 478.5" stroke-width="3.08"/>
<path d="M1053.5 473L1053.5 484" stroke-width="2.24"/>
<path d="M102.7 370.7L41 555" stroke-width="1.26"/>
<path d="M196.9 384.8L150.3 553.6" stroke-width="1.26"/>
<path d="M264.5 415.8L234 551" stroke-width="1.26"/>
<path d="M621.2 383.3L581 551" stroke-width="1.26"/>
<path d="M844.5 383L816 551" stroke-width="1.26"/>
<path d="M1014.6 403.6L991.2 551" stroke-width="1.26"/>
<path d="M1088.2 435.2L1074.2 552" stroke-width="1.26"/>
<path d="M1166.5 399L1144.3 555.6" stroke-width="1.26"/>
<text x="41" y="580.5" font-family="&quot;Liberation Serif&quot;, serif" font-size="24" font-weight="bold" text-anchor="middle" fill="#0e0e0e" stroke="none">1</text>
<text x="146.8" y="580.5" font-family="&quot;Liberation Serif&quot;, serif" font-size="24" font-weight="bold" text-anchor="middle" fill="#0e0e0e" stroke="none">2</text>
<text x="229.5" y="580.5" font-family="&quot;Liberation Serif&quot;, serif" font-size="24" font-weight="bold" text-anchor="middle" fill="#0e0e0e" stroke="none">3</text>
<text x="577.7" y="580.5" font-family="&quot;Liberation Serif&quot;, serif" font-size="24" font-weight="bold" text-anchor="middle" fill="#0e0e0e" stroke="none">4</text>
<text x="812.9" y="580.5" font-family="&quot;Liberation Serif&quot;, serif" font-size="24" font-weight="bold" text-anchor="middle" fill="#0e0e0e" stroke="none">2</text>
<text x="987.5" y="580.5" font-family="&quot;Liberation Serif&quot;, serif" font-size="24" font-weight="bold" text-anchor="middle" fill="#0e0e0e" stroke="none">3</text>
<text x="1071.7" y="578" font-family="&quot;Liberation Serif&quot;, serif" font-size="24" font-weight="bold" text-anchor="middle" fill="#0e0e0e" stroke="none">5</text>
<text x="1144.6" y="578" font-family="&quot;Liberation Serif&quot;, serif" font-size="24" font-weight="bold" text-anchor="middle" fill="#0e0e0e" stroke="none">6</text>
</g>
<g transform="rotate(-0.1375 640 817)">
<path d="M56.4 817C56.7 816.2 57.1 813.8 58 812C58.9 810.2 59.2 808.8 62 806C64.8 803.2 69.5 799.2 75 795C80.5 790.8 88 785 95 781C102 777 106.7 775.8 117 771C127.3 766.2 140.2 759.5 157 752.5C173.8 745.5 198.2 735.2 217.7 729C237.2 722.8 253.5 718.8 273.8 715C294.1 711.2 322.6 708.1 339.3 706C356 703.9 355.6 704.2 374 702.5C392.4 700.8 424.7 697.8 450 696C475.3 694.2 501 692.6 526 691.7C551 690.8 577.7 690.8 600 690.5C622.3 690.2 638.3 690.2 660 690.1C681.7 690 708.3 689.9 730 690C751.7 690.1 773.3 690.4 790 690.8C806.7 691.2 816.7 691.7 830 692.4C843.3 693.1 856.7 694.1 870 695.2C883.3 696.3 897.5 697.8 910 699.2C922.5 700.6 930 701.2 945 703.5C960 705.8 981.3 708.9 1000 713C1018.7 717.1 1042 724 1057 728.3C1072 732.6 1078.3 734.7 1090 739C1101.7 743.3 1117 749.5 1127 754C1137 758.5 1142.2 761.7 1150 766C1157.8 770.3 1167.1 775.8 1173.8 780C1180.5 784.2 1184.9 787.2 1190 791C1195.1 794.8 1200.6 799.7 1204.2 803C1207.8 806.3 1209.3 808.7 1211.5 811C1213.7 813.3 1216.2 816 1217.2 817" stroke-width="1.82"/>
<path d="M56.4 817C56.7 817.8 57.1 820.2 58 822C58.9 823.8 59.2 825.2 62 828C64.8 830.8 69.5 834.8 75 839C80.5 843.2 88 849 95 853C102 857 106.7 858.2 117 863C127.3 867.8 140.2 874.5 157 881.5C173.8 888.5 198.2 898.8 217.7 905C237.2 911.2 253.5 915.2 273.8 919C294.1 922.8 322.6 925.9 339.3 928C356 930.1 355.6 929.8 374 931.5C392.4 933.2 424.7 936.2 450 938C475.3 939.8 501 941.4 526 942.3C551 943.2 577.7 943.2 600 943.5C622.3 943.8 638.3 943.8 660 943.9C681.7 944 708.3 944.1 730 944C751.7 943.9 773.3 943.6 790 943.2C806.7 942.8 816.7 942.3 830 941.6C843.3 940.9 856.7 939.9 870 938.8C883.3 937.7 897.5 936.2 910 934.8C922.5 933.4 930 932.8 945 930.5C960 928.2 981.3 925.1 1000 921C1018.7 916.9 1042 910 1057 905.7C1072 901.4 1078.3 899.3 1090 895C1101.7 890.7 1117 884.5 1127 880C1137 875.5 1142.2 872.3 1150 868C1157.8 863.7 1167.1 858.2 1173.8 854C1180.5 849.8 1184.9 846.8 1190 843C1195.1 839.2 1200.6 834.3 1204.2 831C1207.8 827.7 1209.3 825.3 1211.5 823C1213.7 820.7 1216.2 818 1217.2 817" stroke-width="1.82"/>
<path d="M64.5 808.6C66.2 806.8 69.9 801.8 75 797.6C80.1 793.4 88 787.6 95 783.6C102 779.6 106.7 778.4 117 773.6C127.3 768.9 140.2 762.1 157 755.1C173.8 748.1 198.2 737.9 217.7 731.6C237.2 725.4 253.5 721.4 273.8 717.6C294.1 713.8 322.6 710.7 339.3 708.6C356 706.5 355.6 706.8 374 705.1C392.4 703.4 424.7 700.4 450 698.6C475.3 696.8 501 695.2 526 694.3C551 693.4 577.7 693.4 600 693.1C622.3 692.8 638.3 692.8 660 692.7C681.7 692.6 708.3 692.5 730 692.6C751.7 692.7 773.3 693 790 693.4C806.7 693.8 816.7 694.3 830 695C843.3 695.7 856.7 696.7 870 697.8C883.3 698.9 897.5 700.4 910 701.8C922.5 703.2 930 703.8 945 706.1C960 708.4 981.3 711.5 1000 715.6C1018.7 719.7 1042 726.6 1057 730.9C1072 735.2 1078.3 737.3 1090 741.6C1101.7 745.9 1117 752.1 1127 756.6C1137 761.1 1142.2 764.3 1150 768.6C1157.8 772.9 1167.1 778.4 1173.8 782.6C1180.5 786.8 1185.3 789.8 1190 793.6C1194.7 797.4 1199.8 803.6 1201.7 805.6" stroke-width="1.26"/>
<path d="M64.5 825.4C66.2 827.2 69.9 832.2 75 836.4C80.1 840.6 88 846.4 95 850.4C102 854.4 106.7 855.6 117 860.4C127.3 865.1 140.2 871.9 157 878.9C173.8 885.9 198.2 896.1 217.7 902.4C237.2 908.6 253.5 912.6 273.8 916.4C294.1 920.2 322.6 923.3 339.3 925.4C356 927.5 355.6 927.2 374 928.9C392.4 930.6 424.7 933.6 450 935.4C475.3 937.2 501 938.8 526 939.7C551 940.6 577.7 940.6 600 940.9C622.3 941.2 638.3 941.2 660 941.3C681.7 941.4 708.3 941.5 730 941.4C751.7 941.3 773.3 941 790 940.6C806.7 940.2 816.7 939.7 830 939C843.3 938.3 856.7 937.3 870 936.2C883.3 935.1 897.5 933.6 910 932.2C922.5 930.8 930 930.2 945 927.9C960 925.6 981.3 922.5 1000 918.4C1018.7 914.3 1042 907.4 1057 903.1C1072 898.8 1078.3 896.7 1090 892.4C1101.7 888.1 1117 881.9 1127 877.4C1137 872.9 1142.2 869.7 1150 865.4C1157.8 861.1 1167.1 855.6 1173.8 851.4C1180.5 847.2 1185.3 844.2 1190 840.4C1194.7 836.6 1199.8 830.4 1201.7 828.4" stroke-width="1.26"/>
<path d="M42 817L1252 817" stroke-width="1.26" stroke-dasharray="16 3 2 3"/>
<path d="M57 817 C66 795 92 777 116 767 L120 772 C96 783 72 800 62 815 Z" fill="#777" stroke-width="1.4"/>
<path d="M66 815 L124 773" stroke-width="1.26"/>
<path d="M57 817 C66 839 92 857 116 867 L120 862 C96 851 72 834 62 819 Z" fill="#777" stroke-width="1.4"/>
<path d="M66 819 L124 861" stroke-width="1.26"/>
<path d="M57 817 L64 813 L64 821 Z" fill="#222" stroke-width="1.4"/>
<path d="M82 811 V823 L90 825 V809 Z" stroke-width="1.4"/>
<path d="M127.7 754.7L127.7 881" stroke-width="1.4" stroke-dasharray="12 3 2 3"/>
<rect x="151.8" y="778.8" width="12.2" height="9.8" stroke-width="1.4"/>
<path d="M151.8 778.8L164 788.6" stroke-width="1.12"/>
<path d="M151.8 788.6L164 778.8" stroke-width="1.12"/>
<rect x="206.5" y="766.4" width="31.8" height="22.5" stroke-width="1.82"/>
<rect x="209.5" y="769.4" width="10.5" height="6.5" stroke-width="1.26"/>
<rect x="209.5" y="779.4" width="10.5" height="6.5" stroke-width="1.26"/>
<rect x="224.5" y="769.4" width="11" height="6.5" stroke-width="1.26"/>
<rect x="224.5" y="779.4" width="11" height="6.5" stroke-width="1.26"/>
<rect x="206.5" y="846.6" width="31.8" height="22.5" stroke-width="1.82"/>
<rect x="209.5" y="849.6" width="10.5" height="6.5" stroke-width="1.26"/>
<rect x="209.5" y="859.6" width="10.5" height="6.5" stroke-width="1.26"/>
<rect x="224.5" y="849.6" width="11" height="6.5" stroke-width="1.26"/>
<rect x="224.5" y="859.6" width="11" height="6.5" stroke-width="1.26"/>
<rect x="255" y="805" width="21" height="27" stroke-width="1.96"/>
<path d="M260 808 V829 M271 808 V829 M263 812 H268 M263 825 H268 M263.5 808 V829 M267.5 808 V829" stroke-width="1.26"/>
<path d="M265.5 793L265.5 843" stroke-width="1.26" stroke-dasharray="8 2 2 2"/>
<path d="M250 818L282 818" stroke-width="1.68"/>
<rect x="290" y="801.5" width="36.4" height="33.5" stroke-width="1.54"/>
<path d="M290 801.5 L326.4 835 M290 835 L326.4 801.5" stroke-width="1.12" stroke-dasharray="5 2"/>
<path d="M299 801.5L299 835" stroke-width="1.26"/>
<path d="M308 801.5L308 835" stroke-width="1.26"/>
<path d="M317 801.5L317 835" stroke-width="1.26"/>
<rect x="277.3" y="772" width="14" height="28" stroke-width="1.54"/>
<path d="M277.3 772 C277.5 768 281 765 284 765 M279 770 L287 774" stroke-width="1.4"/>
<path d="M279 787L290 787" stroke-width="1.4"/>
<path d="M279 790L290 790" stroke-width="1.4"/>
<path d="M279 793L290 793" stroke-width="1.4"/>
<path d="M279 796L290 796" stroke-width="1.4"/>
<path d="M279 799L290 799" stroke-width="1.4"/>
<rect x="277.3" y="844.7" width="14" height="24.3" stroke-width="1.54"/>
<path d="M279 847L290 847" stroke-width="1.4"/>
<path d="M279 850L290 850" stroke-width="1.4"/>
<path d="M279 853L290 853" stroke-width="1.4"/>
<path d="M279 856L290 856" stroke-width="1.4"/>
<path d="M279 859L290 859" stroke-width="1.4"/>
<path d="M277.3 869 C278 876 282 880 286 882 M279 872 L290 872" stroke-width="1.4"/>
<g transform="rotate(-12 225 736.5)">
<rect x="214" y="732.5" width="22" height="8" stroke-width="1.4"/>
<circle cx="218.5" cy="736.5" r="2.2" stroke-width="1.4"/>
<circle cx="231.5" cy="736.5" r="2.2" stroke-width="1.4"/>
</g>
<g transform="rotate(12 226 897)">
<rect x="215" y="893" width="22" height="8" stroke-width="1.4"/>
<circle cx="219.5" cy="897" r="2.2" stroke-width="1.4"/>
<circle cx="232.5" cy="897" r="2.2" stroke-width="1.4"/>
</g>
<path d="M340.4 706.5L340.4 769" stroke-width="1.26"/>
<path d="M351 705L351 769" stroke-width="1.54"/>
<path d="M363.8 704L356 769" stroke-width="1.26"/>
<path d="M340.4 927.5L340.4 865" stroke-width="1.26"/>
<path d="M351 929L351 865" stroke-width="1.54"/>
<path d="M363.8 930L356 865" stroke-width="1.26"/>
<path d="M374.3 702.5 V931.5 M377 705 V929" stroke-width="1.4"/>
<path d="M526.3 691.7 V758 M529 694 V758 M526.3 867 V942.3 M529 867 V940" stroke-width="1.4"/>
<path d="M377 713.5L450 712.5L526 712" stroke-width="1.4"/>
<path d="M377 922L450 923L526 923.5" stroke-width="1.4"/>
<path d="M377 708.5L450 704L526 700" stroke-width="1.12"/>
<path d="M377 926.5L450 931L526 935.5" stroke-width="1.12"/>
<path d="M392 703V715 M395 703V715" stroke-width="1.26"/>
<path d="M392 931V919 M395 931V919" stroke-width="1.26"/>
<path d="M420 700.6V712.6 M423 700.6V712.6" stroke-width="1.26"/>
<path d="M420 933.4V921.4 M423 933.4V921.4" stroke-width="1.26"/>
<path d="M449 698.1V710.1 M452 698.1V710.1" stroke-width="1.26"/>
<path d="M449 935.9V923.9 M452 935.9V923.9" stroke-width="1.26"/>
<path d="M480 696.3V708.3 M483 696.3V708.3" stroke-width="1.26"/>
<path d="M480 937.7V925.7 M483 937.7V925.7" stroke-width="1.26"/>
<path d="M508 694.7V706.7 M511 694.7V706.7" stroke-width="1.26"/>
<path d="M508 939.3V927.3 M511 939.3V927.3" stroke-width="1.26"/>
<path d="M385 715H392 M385 741H392 M387 715V741 M390 715V741" stroke-width="1.54"/>
<path d="M513.8 707.5H520.8 M513.8 733.5H520.8 M515.8 707.5V733.5 M518.8 707.5V733.5" stroke-width="1.54"/>
<path d="M388 895H395 M388 921H395 M390 895V921 M393 895V921" stroke-width="1.54"/>
<path d="M513.8 902H520.8 M513.8 928H520.8 M515.8 902V928 M518.8 902V928" stroke-width="1.54"/>
<path d="M397 722 Q397 719 405 718 C437 714 479.3 716 504.3 728 C482.3 749 437 751 405 747 Q397 746 397 743 Z" stroke-width="1.54"/>
<path d="M385 735L510.3 728" stroke-width="1.26" stroke-dasharray="14 3 2 3"/>
<path d="M415 762 Q415 759 423 758 C455 754 469.3 756 494.3 766 C472.3 782 455 784 423 780 Q415 779 415 776 Z" stroke-width="1.54"/>
<path d="M403 770.7L500.3 766" stroke-width="1.26" stroke-dasharray="14 3 2 3"/>
<path d="M416 843.5 Q416 840.5 424 839.5 C456 835.5 471 837.5 496 855.5 C474 863 456 865 424 861 Q416 860 416 857 Z" stroke-width="1.54"/>
<path d="M416 872.4 Q416 869.4 424 868.4 C456 864.4 473.3 866.4 498.3 879.4 C476.3 894.4 456 896.4 424 892.4 Q416 891.4 416 888.4 Z" stroke-width="1.54"/>
<path d="M404 881L504.3 879.4" stroke-width="1.26" stroke-dasharray="14 3 2 3"/>
<path d="M400 911.5 C412 897.5 440 895.5 451.6 895.5 C463.3 895.5 493.3 898.5 503.3 911.5 C493.3 924.5 463.3 927.5 451.6 927.5 C440 927.5 412 925.5 400 911.5 Z" stroke-width="1.54"/>
<path d="M388 911.8L509.3 911" stroke-width="1.26" stroke-dasharray="14 3 2 3"/>
<path d="M408 908L512 914" stroke-width="1.26" stroke-dasharray="14 3 2 3"/>
<path d="M421 748 V757 M476 748 V757 M419 862 V867 M476 862 V867 M421 893 V896 M476 893 V896" stroke-width="1.4"/>
<rect x="387" y="784.2" width="98.3" height="69.2" stroke-width="1.4" stroke-dasharray="4 2"/>
<rect x="396" y="798.3" width="70.2" height="39" stroke-width="1.82"/>
<rect x="399" y="801" width="10" height="13.5" rx="1.5" stroke-width="1.26"/>
<rect x="399" y="821" width="10" height="13.5" rx="1.5" stroke-width="1.26"/>
<rect x="412.4" y="801" width="10" height="13.5" rx="1.5" stroke-width="1.26"/>
<rect x="412.4" y="821" width="10" height="13.5" rx="1.5" stroke-width="1.26"/>
<rect x="425.8" y="801" width="10" height="13.5" rx="1.5" stroke-width="1.26"/>
<rect x="425.8" y="821" width="10" height="13.5" rx="1.5" stroke-width="1.26"/>
<rect x="439.2" y="801" width="10" height="13.5" rx="1.5" stroke-width="1.26"/>
<rect x="439.2" y="821" width="10" height="13.5" rx="1.5" stroke-width="1.26"/>
<rect x="452.6" y="801" width="10" height="13.5" rx="1.5" stroke-width="1.26"/>
<rect x="452.6" y="821" width="10" height="13.5" rx="1.5" stroke-width="1.26"/>
<path d="M386 817.8L470 817.8" stroke-width="1.26"/>
<path d="M472 784.2 V850 Q473 858 480 860" stroke-width="1.4" stroke-dasharray="4 2"/>
<rect x="485.5" y="784.2" width="18.5" height="12.3" stroke-width="1.26" stroke-dasharray="3 1.5"/>
<path d="M486 787L503 787" stroke-width="1.26" stroke-dasharray="3 1.5"/>
<path d="M486 790L503 790" stroke-width="1.26" stroke-dasharray="3 1.5"/>
<path d="M486 793L503 793" stroke-width="1.26" stroke-dasharray="3 1.5"/>
<rect x="496.5" y="809" width="14.5" height="17" stroke-width="1.68"/>
<path d="M499 812 H508 M499 816 H508 M499 820 H508 M499 823 H508" stroke-width="1.26"/>
<path d="M487 797 C487 806 491 810 497 806" stroke-width="1.26"/>
<path d="M489 828 L497 853 M497 828 V853" stroke-width="1.12"/>
<circle cx="363.5" cy="818" r="2.6" fill="#222" stroke-width="1.4"/>
<path d="M366 815 H386 M366 821 H386" stroke-width="1.26" stroke-dasharray="4 2"/>
<rect x="524.3" y="770.2" width="80.2" height="96.2" rx="6" stroke-width="1.82"/>
<path d="M529.5 772L529.5 864" stroke-width="1.26"/>
<circle cx="545.4" cy="818.3" r="20" stroke-width="2.8"/>
<path d="M553.4 837.3 A20.6 20.6 0 1 1 553.4 799.3" stroke-width="4.48"/>
<path d="M553 797 A24 24 0 0 1 553 840" stroke-width="1.4"/>
<path d="M557 793 A29 29 0 0 1 557 844" stroke-width="1.26"/>
<circle cx="562.4" cy="783.2" r="6" stroke-width="1.54"/>
<circle cx="562.4" cy="852.4" r="6" stroke-width="1.54"/>
<rect x="531" y="778" width="20" height="9" stroke-width="1.4"/>
<rect x="575" y="778" width="22" height="9" stroke-width="1.4"/>
<path d="M533 780 L549 785 M577 785 L595 780" stroke-width="1.12"/>
<rect x="531" y="848" width="20" height="9" stroke-width="1.4"/>
<rect x="575" y="848" width="22" height="9" stroke-width="1.4"/>
<path d="M533 850 L549 855 M577 855 L595 850" stroke-width="1.12"/>
<path d="M572 772L572 792" stroke-width="1.26"/>
<path d="M572 845L572 864" stroke-width="1.26"/>
<rect x="590.5" y="796" width="9" height="42" stroke-width="1.54"/>
<path d="M593 800 L597 812 L593 822 L597 834" stroke-width="1.12"/>
<rect x="604.5" y="786.2" width="7" height="62.2" rx="3" stroke-width="1.4"/>
<rect x="605.5" y="794" width="4" height="6" rx="1" stroke-width="1.12"/>
<rect x="605.5" y="805" width="4" height="6" rx="1" stroke-width="1.12"/>
<rect x="605.5" y="816" width="4" height="6" rx="1" stroke-width="1.12"/>
<rect x="605.5" y="827" width="4" height="6" rx="1" stroke-width="1.12"/>
<rect x="605.5" y="837" width="4" height="6" rx="1" stroke-width="1.12"/>
<rect x="534" y="772" width="6" height="3" stroke-width="1.12"/>
<rect x="534" y="861.5" width="6" height="3" stroke-width="1.12"/>
<rect x="548" y="772" width="6" height="3" stroke-width="1.12"/>
<rect x="548" y="861.5" width="6" height="3" stroke-width="1.12"/>
<rect x="563" y="772" width="6" height="3" stroke-width="1.12"/>
<rect x="563" y="861.5" width="6" height="3" stroke-width="1.12"/>
<rect x="575" y="772" width="6" height="3" stroke-width="1.12"/>
<rect x="575" y="861.5" width="6" height="3" stroke-width="1.12"/>
<rect x="587" y="772" width="6" height="3" stroke-width="1.12"/>
<rect x="587" y="861.5" width="6" height="3" stroke-width="1.12"/>
<path d="M500 784 L524 804 M565 805 L598 777 M565 830 L600 860 M479 864 L524 834" stroke-width="1.26"/>
<rect x="527.3" y="758.2" width="23.1" height="11.5" stroke-width="1.26"/>
<path d="M529 758.2L529 769.7" stroke-width="1.4"/>
<path d="M532 758.2L532 769.7" stroke-width="1.4"/>
<path d="M535 758.2L535 769.7" stroke-width="1.4"/>
<path d="M538 758.2L538 769.7" stroke-width="1.4"/>
<path d="M541 758.2L541 769.7" stroke-width="1.4"/>
<path d="M544 758.2L544 769.7" stroke-width="1.4"/>
<path d="M547 758.2L547 769.7" stroke-width="1.4"/>
<rect x="527.3" y="867.4" width="23.1" height="11.5" stroke-width="1.26"/>
<path d="M529 867.4L529 878.9" stroke-width="1.4"/>
<path d="M532 867.4L532 878.9" stroke-width="1.4"/>
<path d="M535 867.4L535 878.9" stroke-width="1.4"/>
<path d="M538 867.4L538 878.9" stroke-width="1.4"/>
<path d="M541 867.4L541 878.9" stroke-width="1.4"/>
<path d="M544 867.4L544 878.9" stroke-width="1.4"/>
<path d="M547 867.4L547 878.9" stroke-width="1.4"/>
<rect x="627.5" y="795.3" width="30.1" height="32" stroke-width="1.68"/>
<rect x="630.5" y="798.5" width="9.5" height="10" rx="1" stroke-width="1.26"/>
<rect x="630.5" y="814" width="9.5" height="10" rx="1" stroke-width="1.26"/>
<rect x="645" y="798.5" width="9.5" height="10" rx="1" stroke-width="1.26"/>
<rect x="645" y="814" width="9.5" height="10" rx="1" stroke-width="1.26"/>
<rect x="533.5" y="697.7" width="15" height="6.6" stroke-width="1.54"/>
<circle cx="537.3" cy="701" r="1.8" stroke-width="1.26"/>
<circle cx="544.7" cy="701" r="1.8" stroke-width="1.26"/>
<rect x="533.5" y="930.7" width="15" height="6.6" stroke-width="1.54"/>
<circle cx="537.3" cy="934" r="1.8" stroke-width="1.26"/>
<circle cx="544.7" cy="934" r="1.8" stroke-width="1.26"/>
<rect x="840.5" y="698.2" width="15" height="6.6" stroke-width="1.54"/>
<circle cx="844.3" cy="701.5" r="1.8" stroke-width="1.26"/>
<circle cx="851.7" cy="701.5" r="1.8" stroke-width="1.26"/>
<rect x="840.5" y="927.2" width="15" height="6.6" stroke-width="1.54"/>
<circle cx="844.3" cy="930.5" r="1.8" stroke-width="1.26"/>
<circle cx="851.7" cy="930.5" r="1.8" stroke-width="1.26"/>
<rect x="582.4" y="712" width="22.1" height="16" stroke-width="1.4"/>
<path d="M582.4 712L604.5 728" stroke-width="1.12"/>
<path d="M582.4 728L604.5 712" stroke-width="1.12"/>
<path d="M590 712L590 728" stroke-width="1.12"/>
<path d="M593.5 711.4 L692 711.8 L692 714.6 L600 714.8 Z" fill="#333" stroke-width="1.12"/>
<path d="M604 716.5L690 714" stroke-width="1.12"/>
<path d="M692 707.5 L700 699.5 L708 698 L713 705.5 L713 717.5 L708 725 L700 723.5 L692 715.5 Z" stroke-width="1.4"/>
<path d="M694 711.5 H712 M700 699.5 V723.5 M694 708.5 L706 703.5 M694 714.5 L706 719.5" stroke-width="1.12"/>
<path d="M686 711.5L720 711.5" stroke-width="1.12" stroke-dasharray="8 2 2 2"/>
<rect x="582.4" y="906.5" width="22.1" height="16" stroke-width="1.4"/>
<path d="M582.4 906.5L604.5 922.5" stroke-width="1.12"/>
<path d="M582.4 922.5L604.5 906.5" stroke-width="1.12"/>
<path d="M590 906.5L590 922.5" stroke-width="1.12"/>
<path d="M593.5 919.9 L692 920.3 L692 923.1 L600 923.3 Z" fill="#333" stroke-width="1.12"/>
<path d="M604 918L690 920.5" stroke-width="1.12"/>
<path d="M692 917.5 L700 909.5 L708 908 L713 915.5 L713 927.5 L708 935 L700 933.5 L692 925.5 Z" stroke-width="1.4"/>
<path d="M694 921.5 H712 M700 909.5 V933.5 M694 918.5 L706 913.5 M694 924.5 L706 929.5" stroke-width="1.12"/>
<path d="M686 921.5L720 921.5" stroke-width="1.12" stroke-dasharray="8 2 2 2"/>
<path d="M593.5 713L620.5 738" stroke-width="1.4"/>
<circle cx="620.5" cy="738" r="1.3" fill="#222" stroke-width="1.4"/>
<path d="M602.5 908.5L620.5 893.4" stroke-width="1.4"/>
<circle cx="620.5" cy="893.4" r="1.3" stroke-width="1.4"/>
<path d="M598.5 678 Q586 716 601.5 754" stroke-width="1.26" stroke-dasharray="10 3"/>
<path d="M601.5 879 Q588 918 600 958" stroke-width="1.26" stroke-dasharray="10 3"/>
<path d="M594 712 L612 694 M594 925 L615 942" stroke-width="1.26"/>
<rect x="673" y="776.2" width="23" height="82.2" stroke-width="1.4"/>
<path d="M673 784.4L696 784.4" stroke-width="1.26"/>
<path d="M673 792.6L696 792.6" stroke-width="1.26"/>
<path d="M673 800.8L696 800.8" stroke-width="1.26"/>
<path d="M673 809L696 809" stroke-width="1.26"/>
<path d="M673 817.2L696 817.2" stroke-width="1.26"/>
<path d="M673 825.4L696 825.4" stroke-width="1.26"/>
<path d="M673 833.6L696 833.6" stroke-width="1.26"/>
<path d="M673 841.8L696 841.8" stroke-width="1.26"/>
<path d="M673 850L696 850" stroke-width="1.26"/>
<path d="M675 779 L694 856 M694 779 L675 856" stroke-width="1.12" stroke-dasharray="5 2"/>
<path d="M697 769.2 L734.2 798.3 M698 863.4 L734.2 833.3" stroke-width="1.4"/>
<rect x="735.2" y="769.2" width="69.1" height="95.2" rx="6" stroke-width="1.82"/>
<circle cx="751.2" cy="817" r="22" stroke-width="2.8"/>
<path d="M759.2 838.2 A22.6 22.6 0 1 1 759.2 795.8" stroke-width="4.76"/>
<path d="M762 797 A23 23 0 0 1 762 837" stroke-width="1.4"/>
<path d="M757 792 A30 30 0 0 1 757 842" stroke-width="1.26"/>
<path d="M746 797 A33 33 0 0 1 789 817 A33 33 0 0 1 746 837" stroke-width="1.26"/>
<circle cx="796.3" cy="784.2" r="7" stroke-width="2.52"/>
<circle cx="796.3" cy="784.2" r="3.6" stroke-width="1.4"/>
<circle cx="796.3" cy="848.4" r="7" stroke-width="2.52"/>
<circle cx="796.3" cy="848.4" r="3.6" stroke-width="1.4"/>
<rect x="740" y="777.5" width="44" height="8.5" stroke-width="1.4"/>
<rect x="740" y="848" width="44" height="8.5" stroke-width="1.4"/>
<path d="M743 783 L760 780 L781 783 M743 851 L760 854 L781 851" stroke-width="1.12"/>
<rect x="794" y="797" width="8" height="38" stroke-width="1.54"/>
<path d="M796 801 L800 812 L796 822 L800 832" stroke-width="1.12"/>
<rect x="743" y="771" width="6" height="3" stroke-width="1.12"/>
<rect x="743" y="859.5" width="6" height="3" stroke-width="1.12"/>
<rect x="757" y="771" width="6" height="3" stroke-width="1.12"/>
<rect x="757" y="859.5" width="6" height="3" stroke-width="1.12"/>
<rect x="772" y="771" width="6" height="3" stroke-width="1.12"/>
<rect x="772" y="859.5" width="6" height="3" stroke-width="1.12"/>
<rect x="789" y="771" width="6" height="3" stroke-width="1.12"/>
<rect x="789" y="859.5" width="6" height="3" stroke-width="1.12"/>
<path d="M766 801 L792 770 L804 756 M766 833 L792 864 L804 879" stroke-width="1.26"/>
<rect x="781.9" y="739.7" width="22.4" height="16.1" stroke-width="1.54"/>
<path d="M781.9 739.7L804.3 755.8" stroke-width="1.23"/>
<path d="M781.9 755.8L804.3 739.7" stroke-width="1.23"/>
<rect x="781.9" y="878.4" width="22.4" height="16" stroke-width="1.54"/>
<path d="M781.9 878.4L804.3 894.4" stroke-width="1.23"/>
<path d="M781.9 894.4L804.3 878.4" stroke-width="1.23"/>
<path d="M793 739.7L793 755.8" stroke-width="1.26"/>
<path d="M793 878.4L793 894.4" stroke-width="1.26"/>
<path d="M790.3 676 Q801 710 794.3 738" stroke-width="1.26" stroke-dasharray="10 3"/>
<path d="M797.3 896 Q802 926 795.3 948" stroke-width="1.26" stroke-dasharray="10 3"/>
<rect x="805.3" y="782.2" width="77.2" height="67.2" stroke-width="3.08"/>
<path d="M838 782.2 V849.4 M851 782.2 V815 M838 815 H882 M806 800 H822 V783 M806 830 H822 V849" stroke-width="1.82"/>
<path d="M867 783 V806 H877 V783 M870 808 H880 V830 H870 Z M859 840 H866 V849" stroke-width="1.54"/>
<path d="M841 823 H850 V847 H841 Z M842 825 L849 845 M849 825 L842 845" stroke-width="1.26"/>
<text x="855" y="803.5" font-family="&quot;Liberation Sans&quot;, sans-serif" font-size="10" fill="#222" stroke="none">Р</text>
<path d="M807 832L820 832" stroke-width="1.26"/>
<path d="M807 835L820 835" stroke-width="1.26"/>
<path d="M807 838L820 838" stroke-width="1.26"/>
<path d="M807 841L820 841" stroke-width="1.26"/>
<path d="M807 844L820 844" stroke-width="1.26"/>
<path d="M807 847L820 847" stroke-width="1.26"/>
<path d="M809 803 L818 826 M818 803 L809 826 M812 800 V830" stroke-width="1.12"/>
<circle cx="853.5" cy="781" r="1.8" stroke-width="1.26"/>
<circle cx="868" cy="781" r="1.8" stroke-width="1.26"/>
<circle cx="853.5" cy="850.5" r="1.8" stroke-width="1.26"/>
<circle cx="868" cy="850.5" r="1.8" stroke-width="1.26"/>
<circle cx="813" cy="850.5" r="1.8" stroke-width="1.26"/>
<path d="M843 764.5L861 764.5" stroke-width="1.4" stroke-dasharray="4 1.5"/>
<path d="M843 768.5L861 768.5" stroke-width="1.4" stroke-dasharray="4 1.5"/>
<path d="M843 772.5L861 772.5" stroke-width="1.4" stroke-dasharray="4 1.5"/>
<path d="M843 858.5L862 858.5" stroke-width="1.68" stroke-dasharray="4 1.5"/>
<path d="M843 862.5L862 862.5" stroke-width="1.68" stroke-dasharray="4 1.5"/>
<path d="M843 866.5L862 866.5" stroke-width="1.68" stroke-dasharray="4 1.5"/>
<path d="M843 870L862 870" stroke-width="1.68" stroke-dasharray="4 1.5"/>
<path d="M812 775.2L845 775.2" stroke-width="1.26" stroke-dasharray="4 2"/>
<path d="M806 857.4L845 857.4" stroke-width="1.26" stroke-dasharray="4 2"/>
<path d="M882.5 782.2 H917 A33.6 33.6 0 0 1 917 849.4 H882.5" stroke-width="1.68"/>
<rect x="888" y="796.5" width="10" height="17" rx="1.2" stroke-width="1.26"/>
<rect x="888" y="820.5" width="10" height="16.5" rx="1.2" stroke-width="1.26"/>
<rect x="901.8" y="796.5" width="10" height="17" rx="1.2" stroke-width="1.26"/>
<rect x="901.8" y="820.5" width="10" height="16.5" rx="1.2" stroke-width="1.26"/>
<rect x="915.6" y="796.5" width="10" height="17" rx="1.2" stroke-width="1.26"/>
<rect x="915.6" y="820.5" width="10" height="16.5" rx="1.2" stroke-width="1.26"/>
<rect x="929.4" y="796.5" width="10" height="17" rx="1.2" stroke-width="1.26"/>
<rect x="929.4" y="820.5" width="10" height="16.5" rx="1.2" stroke-width="1.26"/>
<path d="M884 793L944 793" stroke-width="1.12"/>
<path d="M884 840.5L944 840.5" stroke-width="1.12"/>
<circle cx="882.5" cy="796" r="2" stroke-width="1.4"/>
<circle cx="882.5" cy="814" r="2" stroke-width="1.4"/>
<circle cx="882.5" cy="837" r="2" stroke-width="1.4"/>
<path d="M862.4 703L862.4 782" stroke-width="1.26" stroke-dasharray="6 3"/>
<path d="M862.4 850L862.4 936.5" stroke-width="1.26" stroke-dasharray="6 3"/>
<path d="M881.5 696L881.5 936.5" stroke-width="1.26" stroke-dasharray="12 3 2 3"/>
<path d="M862.4 704.5L881.5 704.5" stroke-width="1.26" stroke-dasharray="5 2"/>
<path d="M862.4 930.5L881.5 930.5" stroke-width="1.26" stroke-dasharray="5 2"/>
<rect x="893.5" y="767.2" width="12.5" height="14" stroke-width="1.4"/>
<rect x="906" y="768.2" width="17.5" height="12" stroke-width="1.26"/>
<path d="M906 771.2L923.5 771.2" stroke-width="1.4" stroke-dasharray="3 1"/>
<path d="M906 774.2L923.5 774.2" stroke-width="1.4" stroke-dasharray="3 1"/>
<path d="M906 777.2L923.5 777.2" stroke-width="1.4" stroke-dasharray="3 1"/>
<rect x="893.5" y="857.5" width="12.5" height="14" stroke-width="1.4"/>
<rect x="906" y="858.5" width="17.5" height="12" stroke-width="1.26"/>
<path d="M906 861.5L923.5 861.5" stroke-width="1.4" stroke-dasharray="3 1"/>
<path d="M906 864.5L923.5 864.5" stroke-width="1.4" stroke-dasharray="3 1"/>
<path d="M906 867.5L923.5 867.5" stroke-width="1.4" stroke-dasharray="3 1"/>
<path d="M895 766 C896 762 899 760.5 901 760 M895 873 C896 877 899 879 901 880" stroke-width="1.4"/>
<path d="M907.5 700 L919.5 747 M929.6 702 L934.6 745 M948.6 704 L947.6 747" stroke-width="1.26"/>
<path d="M917.5 894.4 L909.5 934.5 M934.6 893.4 L930.6 930.5 M948.2 889.8 L950 927" stroke-width="1.26"/>
<circle cx="959.2" cy="815.4" r="4.7" stroke-width="1.54"/>
<circle cx="959.2" cy="815.4" r="2.6" stroke-width="1.4"/>
<path d="M973.2 803.3 H992 V828.5 H973.2 Z" stroke-width="1.68"/>
<path d="M975 805.5 Q982.5 808 990 805.5 M975 826.3 Q982.5 824 990 826.3" stroke-width="1.26"/>
<rect x="998" y="800.5" width="43" height="30.8" stroke-width="1.54"/>
<path d="M1006.6 800.5L1006.6 831.3" stroke-width="1.26"/>
<path d="M1015.2 800.5L1015.2 831.3" stroke-width="1.26"/>
<path d="M1023.8 800.5L1023.8 831.3" stroke-width="1.26"/>
<path d="M1032.4 800.5L1032.4 831.3" stroke-width="1.26"/>
<path d="M998 800.5 L1041 831.3 M998 831.3 L1041 800.5" stroke-width="1.12" stroke-dasharray="5 2"/>
<g transform="rotate(20 1051 732)">
<rect x="1041.5" y="728.4" width="19" height="7.2" stroke-width="1.54"/>
<circle cx="1045.5" cy="732" r="2" stroke-width="1.26"/>
<circle cx="1056.5" cy="732" r="2" stroke-width="1.26"/>
</g>
<g transform="rotate(-20 1052 897.5)">
<rect x="1042.5" y="893.9" width="19" height="7.2" stroke-width="1.54"/>
<circle cx="1046.5" cy="897.5" r="2" stroke-width="1.26"/>
<circle cx="1057.5" cy="897.5" r="2" stroke-width="1.26"/>
</g>
<path d="M1107 795 H1126 V801 H1130 V810 H1134 V821 H1130 V830 H1126 V836 H1107 L1099 828 V803 Z" stroke-width="1.54"/>
<path d="M1125.9 772.9L1125.9 858.2" stroke-width="3.08"/>
<path d="M1113 772.9L1131 772.9" stroke-width="2.52"/>
<path d="M1113 858.2L1138.7 858.2" stroke-width="2.52"/>
<rect x="1126" y="767.7" width="12.7" height="11" stroke-width="1.54"/>
<path d="M1126 773.5L1138.7 773.5" stroke-width="1.4"/>
<path d="M1179.5 772.5 Q1125.5 816 1179.5 858.5" stroke-width="1.26" stroke-dasharray="22 4"/>
<rect x="1165" y="798" width="11.6" height="10" stroke-width="1.54"/>
<circle cx="1170.8" cy="803" r="2.6" stroke-width="1.4"/>
<rect x="1165" y="822.5" width="11.6" height="10" stroke-width="1.54"/>
<circle cx="1170.8" cy="827.5" r="2.6" stroke-width="1.4"/>
<path d="M1150.4 816 L1190 812.5 L1200 811.5 L1200 820.5 L1190 819.5 Z" fill="#333" stroke-width="1.4"/>
<ellipse cx="1205.5" cy="816" rx="4.5" ry="6.5" stroke-width="1.68"/>
<path d="M1198 809 L1203 811 M1198 823 L1203 821" stroke-width="1.96"/>
<path d="M1206.5 761.2L1206.5 864" stroke-width="1.4" stroke-dasharray="12 3 2 3"/>
<path d="M1096.2 1000.8L1248.6 1000.8" stroke-width="3.36"/>
<path d="M1096.2 988.5L1096.2 1001" stroke-width="1.68"/>
<path d="M1127 988.5L1127 1001" stroke-width="1.68"/>
<path d="M1158.1 988.5L1158.1 1001" stroke-width="1.68"/>
<path d="M1189 988.5L1189 1001" stroke-width="1.68"/>
<path d="M1219.4 988.5L1219.4 1001" stroke-width="1.68"/>
<path d="M1248.6 988.5L1248.6 1001" stroke-width="1.68"/>
<path d="M1111.9 996L1111.9 1001" stroke-width="1.4"/>
<text x="1096.6" y="986" font-family="&quot;Liberation Serif&quot;, serif" font-size="14.5" font-weight="bold" text-anchor="middle" fill="#0e0e0e" stroke="none">2</text>
<text x="1112.3" y="986" font-family="&quot;Liberation Serif&quot;, serif" font-size="14.5" font-weight="bold" text-anchor="middle" fill="#0e0e0e" stroke="none">1</text>
<text x="1127.5" y="986" font-family="&quot;Liberation Serif&quot;, serif" font-size="14.5" font-weight="bold" text-anchor="middle" fill="#0e0e0e" stroke="none">0</text>
<text x="1158.6" y="986" font-family="&quot;Liberation Serif&quot;, serif" font-size="14.5" font-weight="bold" text-anchor="middle" fill="#0e0e0e" stroke="none">2</text>
<text x="1187.8" y="986" font-family="&quot;Liberation Serif&quot;, serif" font-size="14.5" font-weight="bold" text-anchor="middle" fill="#0e0e0e" stroke="none">4</text>
<text x="1219.4" y="986" font-family="&quot;Liberation Serif&quot;, serif" font-size="14.5" font-weight="bold" text-anchor="middle" fill="#0e0e0e" stroke="none">6</text>
<text x="1248.6" y="986" font-family="&quot;Liberation Serif&quot;, serif" font-size="14.5" font-weight="bold" text-anchor="middle" fill="#0e0e0e" stroke="none">8</text>
<text x="1261.5" y="986" font-family="&quot;Liberation Serif&quot;, serif" font-size="12" font-weight="bold" text-anchor="middle" fill="#0e0e0e" stroke="none">м</text>
</g>
<g >
<path d="M462 632L441 721" stroke-width="1.26"/>
<path d="M494 632L472.5 760" stroke-width="1.26"/>
<path d="M426 855.4L397 993" stroke-width="1.26"/>
<path d="M450 887.4L399.5 993" stroke-width="1.26"/>
<path d="M491.3 913.5L479 993" stroke-width="1.26"/>
<path d="M882 632L859.4 782.2" stroke-width="1.26"/>
<path d="M1011 632L982.5 803.3" stroke-width="1.26"/>
<path d="M1153 632L1118.9 803.3" stroke-width="1.26"/>
<text x="461" y="632" font-family="&quot;Liberation Serif&quot;, serif" font-size="22" font-weight="bold" text-anchor="middle" fill="#0e0e0e" stroke="none">7</text>
<text x="496" y="632" font-family="&quot;Liberation Serif&quot;, serif" font-size="22" font-weight="bold" text-anchor="middle" fill="#0e0e0e" stroke="none">8</text>
<text x="392.3" y="1019.5" font-family="&quot;Liberation Serif&quot;, serif" font-size="22" font-weight="bold" text-anchor="middle" fill="#0e0e0e" stroke="none">12</text>
<text x="477" y="1018.5" font-family="&quot;Liberation Serif&quot;, serif" font-size="22" font-weight="bold" text-anchor="middle" fill="#0e0e0e" stroke="none">13</text>
<text x="884.8" y="632" font-family="&quot;Liberation Serif&quot;, serif" font-size="22" font-weight="bold" text-anchor="middle" fill="#0e0e0e" stroke="none">9</text>
<text x="1013" y="632" font-family="&quot;Liberation Serif&quot;, serif" font-size="22" font-weight="bold" text-anchor="middle" fill="#0e0e0e" stroke="none">10</text>
<text x="1153.7" y="632.5" font-family="&quot;Liberation Serif&quot;, serif" font-size="22" font-weight="bold" text-anchor="middle" fill="#0e0e0e" stroke="none">11</text>
</g>
<g transform="rotate(-0.218 640 1184.3)">
<path d="M58.7 1184.3C59.2 1183.1 60.5 1180 62 1177.3C63.5 1174.5 65.4 1171.4 68 1167.8C70.6 1164.2 73.4 1160 77.4 1155.8C81.4 1151.5 86.6 1146.6 92 1142.3C97.4 1138 103.3 1133.9 110 1129.8C116.7 1125.7 124.2 1121.7 132 1117.8C139.8 1113.9 144.3 1111.4 157 1106.6C169.7 1101.8 188.8 1094.4 208.3 1089.1C227.8 1083.8 253.1 1078.7 273.8 1075C294.5 1071.3 312.9 1069.2 332.3 1066.8C351.7 1064.3 368 1062.2 390 1060.3C412 1058.3 432.7 1056.5 464.4 1055.1C496.1 1053.6 542.4 1052.1 580 1051.6C617.6 1051.1 658.3 1051.5 690 1052C721.7 1052.5 746.9 1053.4 770 1054.5C793.1 1055.6 811.8 1057.2 828.5 1058.6C845.2 1059.9 850.8 1059.9 870 1062.6C889.2 1065.3 921.8 1070.6 943.5 1074.8C965.2 1079 980.4 1082.7 1000 1087.8C1019.6 1092.9 1043.5 1099.5 1061 1105.4C1078.5 1111.3 1091.2 1117 1105 1123.3C1118.8 1129.5 1133.2 1137.2 1144 1142.9C1154.8 1148.6 1162 1152.7 1170 1157.3C1178 1161.9 1186.3 1166.9 1192 1170.3C1197.7 1173.7 1200.4 1175.5 1204 1177.8C1207.6 1180.1 1211.8 1183.2 1213.4 1184.3" stroke-width="1.71"/>
<path d="M58.7 1184.3C59.2 1185.5 60.5 1188.5 62 1191.3C63.5 1194 65.4 1197.2 68 1200.8C70.6 1204.4 73.4 1208.5 77.4 1212.8C81.4 1217 86.6 1222 92 1226.3C97.4 1230.6 103.3 1234.7 110 1238.8C116.7 1242.9 124.2 1246.9 132 1250.8C139.8 1254.7 144.3 1257.2 157 1262C169.7 1266.8 188.8 1274.2 208.3 1279.5C227.8 1284.8 253.1 1289.9 273.8 1293.6C294.5 1297.3 312.9 1299.3 332.3 1301.8C351.7 1304.2 368 1306.3 390 1308.3C412 1310.2 432.7 1312 464.4 1313.5C496.1 1315 542.4 1316.5 580 1317C617.6 1317.5 658.3 1317.1 690 1316.6C721.7 1316.1 746.9 1315.2 770 1314.1C793.1 1313 811.8 1311.3 828.5 1310C845.2 1308.7 850.8 1308.7 870 1306C889.2 1303.3 921.8 1298 943.5 1293.8C965.2 1289.6 980.4 1285.9 1000 1280.8C1019.6 1275.7 1043.5 1269.1 1061 1263.2C1078.5 1257.3 1091.2 1251.5 1105 1245.3C1118.8 1239 1133.2 1231.4 1144 1225.7C1154.8 1220 1162 1215.9 1170 1211.3C1178 1206.7 1186.3 1201.7 1192 1198.3C1197.7 1194.9 1200.4 1193.1 1204 1190.8C1207.6 1188.5 1211.8 1185.4 1213.4 1184.3" stroke-width="1.71"/>
<path d="M40 1184.3L1100 1184.3" stroke-width="1.4" stroke-dasharray="16 3 2 3"/>
<path d="M1100 1184.3L1234 1184.3" stroke-width="1.4"/>
<path d="M208.3 1089.1L208.3 1279.5" stroke-width="1.71"/>
<path d="M464.4 1055.1L464.4 1313.5" stroke-width="1.86"/>
<path d="M689.6 1052L689.6 1316.6" stroke-width="1.86"/>
<path d="M829 1058.6L829 1310" stroke-width="1.86"/>
<path d="M1061 1105.4L1061 1263.2" stroke-width="1.86"/>
<path d="M332.3 1066.8L332.3 1104.3" stroke-width="1.71"/>
<path d="M944 1074.9L944 1113.3" stroke-width="1.71"/>
<path d="M209 1123.3 L331 1086.8" stroke-width="1.55"/>
<path d="M209 1134.8 L317 1108.3 L332.3 1104.8" stroke-width="1.55"/>
<path d="M317 1104.3 H829 L870 1107.6 L943.5 1113.8 L983.6 1127.5 L1058.4 1153" stroke-width="1.71"/>
<path d="M944 1098.8 L1060 1140.3" stroke-width="1.55"/>
<ellipse cx="135.9" cy="1152.8" rx="4.7" ry="25.7" stroke-width="1.4" stroke-dasharray="3 1.5"/>
<path d="M129 1152.8 L133 1149.8 H140 L143 1152.8 L140 1155.8 H133 Z" stroke-width="1.4"/>
<path d="M141 1152.8L450 1152.8" stroke-width="1.4" stroke-dasharray="14 3 2 3"/>
<path d="M143 1146.3 H208" stroke-width="1.71" stroke-dasharray="4 2"/>
<path d="M332.3 1301.8L332.3 1264.3" stroke-width="1.71"/>
<path d="M944 1293.7L944 1255.3" stroke-width="1.71"/>
<path d="M209 1245.3 L331 1281.8" stroke-width="1.55"/>
<path d="M209 1233.8 L317 1260.3 L332.3 1263.8" stroke-width="1.55"/>
<path d="M317 1264.3 H829 L870 1261 L943.5 1254.8 L983.6 1241.1 L1058.4 1215.6" stroke-width="1.71"/>
<path d="M944 1269.8 L1060 1228.3" stroke-width="1.55"/>
<ellipse cx="135.9" cy="1215.8" rx="4.7" ry="25.7" stroke-width="1.4" stroke-dasharray="3 1.5"/>
<path d="M129 1215.8 L133 1212.8 H140 L143 1215.8 L140 1218.8 H133 Z" stroke-width="1.4"/>
<path d="M141 1215.8L450 1215.8" stroke-width="1.4" stroke-dasharray="14 3 2 3"/>
<path d="M143 1222.3 H208" stroke-width="1.71" stroke-dasharray="4 2"/>
<path d="M143.5 1159.3 Q148 1159.3 148 1164.3 V1204.3 Q148 1209.3 143.5 1209.3" stroke-width="1.71" stroke-dasharray="4 2"/>
<path d="M208 1148.3 l5 -5 M208 1224.3 q5 1 5 8" stroke-width="1.24"/>
<path d="M287.8 1097.3L287.8 1270.3" stroke-width="1.55"/>
<path d="M317 1108.3L317 1260.3" stroke-width="1.55"/>
<rect x="287.8" y="1096.3" width="23.2" height="28" stroke-width="1.4" stroke-dasharray="3 2"/>
<path d="M287.8 1110.3L311 1110.3" stroke-width="1.86" stroke-dasharray="2 1.5"/>
<path d="M290 1105.3 L309 1100.3" stroke-width="2.02" stroke-dasharray="2 1.5"/>
<path d="M290 1115.3 L309 1119.3" stroke-width="2.02" stroke-dasharray="2 1.5"/>
<rect x="287.8" y="1247.3" width="23.2" height="26" stroke-width="1.4" stroke-dasharray="3 2"/>
<path d="M287.8 1260.3L311 1260.3" stroke-width="1.86" stroke-dasharray="2 1.5"/>
<path d="M290 1256.3 L309 1251.3" stroke-width="2.02" stroke-dasharray="2 1.5"/>
<path d="M290 1264.3 L309 1268.3" stroke-width="2.02" stroke-dasharray="2 1.5"/>
<path d="M643 1104.3L643 1264.3" stroke-width="1.71"/>
<path d="M643 1203.6L689.6 1203.6" stroke-width="1.55"/>
<path d="M643 1176.3L689.6 1176.3" stroke-width="2.48"/>
<rect x="300" y="1142.8" width="27" height="20" stroke-width="1.4" stroke-dasharray="3 1.5"/>
<path d="M296 1145.8 V1159.8 M298.5 1145.8 V1159.8" stroke-width="1.86" stroke-dasharray="2 1"/>
<path d="M327 1139.3 H338 V1166.3 H327 Z" stroke-width="1.71"/>
<path d="M331 1139.3L331 1166.3" stroke-width="1.24"/>
<path d="M338 1136.8 H434.3 V1168.8 H338 Z" stroke-width="1.86"/>
<rect x="360" y="1142.8" width="48" height="20" stroke-width="1.55"/>
<circle cx="351.1" cy="1152.8" r="10" fill="#fbfbfb" stroke-width="1.86"/>
<circle cx="385.2" cy="1152.8" r="13.6" fill="#fbfbfb" stroke-width="1.86"/>
<circle cx="418.3" cy="1152.8" r="7" fill="#fbfbfb" stroke-width="1.86"/>
<path d="M361 1146.8 A6 6.5 0 0 1 361 1158.8 M426 1146.8 A5 6 0 0 1 426 1158.8" stroke-width="1.55"/>
<rect x="347" y="1168.8" width="10" height="9" stroke-width="1.86"/>
<rect x="379" y="1168.8" width="11" height="9" stroke-width="1.86"/>
<rect x="379" y="1129.8" width="11" height="7" stroke-width="1.86"/>
<rect x="412.3" y="1127.8" width="12" height="51" stroke-width="2.02"/>
<path d="M412.3 1136.8L424.3 1136.8" stroke-width="1.55"/>
<path d="M412.3 1168.8L424.3 1168.8" stroke-width="1.55"/>
<rect x="347" y="1130.8" width="5" height="6" stroke-width="1.55"/>
<path d="M358 1116.8 H401 Q407.3 1116.8 407.3 1126.8 Q407.3 1136.8 401 1136.8 H358 Q352 1136.8 352 1126.8 Q352 1116.8 358 1116.8 Z" stroke-width="1.86"/>
<path d="M360.5 1116.8L360.5 1136.8" stroke-width="3.41"/>
<path d="M364 1125.8L392 1125.8" stroke-width="1.71" stroke-dasharray="5 2"/>
<rect x="300" y="1205.8" width="27" height="20" stroke-width="1.4" stroke-dasharray="3 1.5"/>
<path d="M296 1222.8 V1208.8 M298.5 1222.8 V1208.8" stroke-width="1.86" stroke-dasharray="2 1"/>
<path d="M327 1229.3 H338 V1202.3 H327 Z" stroke-width="1.71"/>
<path d="M331 1229.3L331 1202.3" stroke-width="1.24"/>
<path d="M338 1231.8 H434.3 V1199.8 H338 Z" stroke-width="1.86"/>
<rect x="360" y="1205.8" width="48" height="20" stroke-width="1.55"/>
<circle cx="351.1" cy="1215.8" r="10" fill="#fbfbfb" stroke-width="1.86"/>
<circle cx="385.2" cy="1215.8" r="13.6" fill="#fbfbfb" stroke-width="1.86"/>
<circle cx="418.3" cy="1215.8" r="7" fill="#fbfbfb" stroke-width="1.86"/>
<path d="M361 1221.8 A6 6.5 0 0 1 361 1209.8 M426 1221.8 A5 6 0 0 1 426 1209.8" stroke-width="1.55"/>
<rect x="347" y="1190.8" width="10" height="9" stroke-width="1.86"/>
<rect x="379" y="1190.8" width="11" height="9" stroke-width="1.86"/>
<rect x="379" y="1231.8" width="11" height="7" stroke-width="1.86"/>
<rect x="412.3" y="1189.8" width="12" height="51" stroke-width="2.02"/>
<path d="M412.3 1231.8L424.3 1231.8" stroke-width="1.55"/>
<path d="M412.3 1199.8L424.3 1199.8" stroke-width="1.55"/>
<rect x="347" y="1231.8" width="5" height="6" stroke-width="1.55"/>
<path d="M358 1251.8 H401 Q407.3 1251.8 407.3 1241.8 Q407.3 1231.8 401 1231.8 H358 Q352 1231.8 352 1241.8 Q352 1251.8 358 1251.8 Z" stroke-width="1.86"/>
<path d="M360.5 1251.8L360.5 1231.8" stroke-width="3.41"/>
<path d="M364 1242.8L392 1242.8" stroke-width="1.71" stroke-dasharray="5 2"/>
<path d="M475.4 1179.3 H522.5 V1112.3 H475.4 Z" stroke-width="1.86"/>
<path d="M522.5 1113.3 H536.5 V1178.3" stroke-width="1.55"/>
<path d="M536.5 1136.8 H543.5 V1164.3" stroke-width="1.55"/>
<path d="M475.4 1189.3 H522.5 V1256.3 H475.4 Z" stroke-width="1.86"/>
<path d="M522.5 1255.3 H536.5 V1190.3" stroke-width="1.55"/>
<path d="M536.5 1231.8 H543.5 V1204.3" stroke-width="1.55"/>
<path d="M633.6 1179.3 H586.5 V1112.3 H633.6 Z" stroke-width="1.86"/>
<path d="M586.5 1113.3 H572.5 V1178.3" stroke-width="1.55"/>
<path d="M572.5 1136.8 H565.5 V1164.3" stroke-width="1.55"/>
<path d="M633.6 1189.3 H586.5 V1256.3 H633.6 Z" stroke-width="1.86"/>
<path d="M586.5 1255.3 H572.5 V1190.3" stroke-width="1.55"/>
<path d="M572.5 1231.8 H565.5 V1204.3" stroke-width="1.55"/>
<rect x="534.5" y="1164.8" width="40.1" height="39" stroke-width="1.86"/>
<circle cx="554.5" cy="1184.3" r="17" stroke-width="2.17"/>
<circle cx="554.5" cy="1184.3" r="15.3" stroke-width="1.24"/>
<path d="M541 1178.3 H566 M541 1190.3 H566 M545 1175.3 h8 M556 1193.3 h8" stroke-width="1.55" stroke-dasharray="5 2"/>
<path d="M500.4 1178.8L811 1178.8" stroke-width="2.33"/>
<path d="M500.4 1189.8L811 1189.8" stroke-width="2.33"/>
<path d="M500.4 1178.8L500.4 1189.8" stroke-width="1.86"/>
<path d="M503 1181.8L808 1181.8" stroke-width="1.4" stroke-dasharray="3 1.5"/>
<path d="M503 1186.8L808 1186.8" stroke-width="1.4" stroke-dasharray="3 1.5"/>
<rect x="572.4" y="1078.8" width="24.6" height="15" stroke-width="1.55" stroke-dasharray="4 2"/>
<path d="M572.4 1078.8L597 1093.8" stroke-width="1.24" stroke-dasharray="4 2"/>
<path d="M572.4 1093.8L597 1078.8" stroke-width="1.24" stroke-dasharray="4 2"/>
<rect x="572.4" y="1289.3" width="24.6" height="16" stroke-width="1.55" stroke-dasharray="4 2"/>
<path d="M572.4 1289.3L597 1305.3" stroke-width="1.24" stroke-dasharray="4 2"/>
<path d="M572.4 1305.3L597 1289.3" stroke-width="1.24" stroke-dasharray="4 2"/>
<rect x="666.8" y="1143.3" width="22.8" height="83" stroke-width="1.4" stroke-dasharray="5 2"/>
<path d="M666.8 1143.3 L689.6 1226.3 M689.6 1143.3 L666.8 1226.3" stroke-width="1.4" stroke-dasharray="5 2"/>
<rect x="696.3" y="1112.3" width="63.1" height="144" rx="3" stroke-width="2.17"/>
<path d="M698.5 1114.3L698.5 1254.3" stroke-width="1.24"/>
<path d="M745.4 1112.3L745.4 1256.3" stroke-width="1.4" stroke-dasharray="12 3 2 3"/>
<path d="M759.4 1138.3 H768.4 V1232.3 H759.4" stroke-width="1.55"/>
<rect x="734" y="1169.3" width="25.4" height="30" stroke-width="2.02"/>
<circle cx="746.4" cy="1184.3" r="12" stroke-width="2.17"/>
<circle cx="746.4" cy="1184.3" r="10.5" stroke-width="1.24"/>
<path d="M740 1180.3 h12 M740 1189.3 h12 M746.4 1175.3 V1193.3" stroke-width="1.4" stroke-dasharray="3 2"/>
<rect x="773.4" y="1105.6" width="24.1" height="17" stroke-width="1.55" stroke-dasharray="4 2"/>
<path d="M773.4 1105.6L797.5 1122.6" stroke-width="1.24" stroke-dasharray="4 2"/>
<path d="M773.4 1122.6L797.5 1105.6" stroke-width="1.24" stroke-dasharray="4 2"/>
<rect x="773.4" y="1246" width="24.1" height="17" stroke-width="1.55" stroke-dasharray="4 2"/>
<path d="M773.4 1246L797.5 1263" stroke-width="1.24" stroke-dasharray="4 2"/>
<path d="M773.4 1263L797.5 1246" stroke-width="1.24" stroke-dasharray="4 2"/>
<path d="M797.5 1104.3 V1162.8 H829" stroke-width="1.71"/>
<path d="M797.5 1264.3 V1204.6 H829" stroke-width="1.71"/>
<circle cx="811.5" cy="1183.9" r="13.6" stroke-width="1.71"/>
<circle cx="811.5" cy="1183.9" r="4" stroke-width="1.86"/>
<path d="M768.4 1181.3 H811 M768.4 1187.3 H811" stroke-width="1.55"/>
<rect x="852.7" y="1158.3" width="13.3" height="50.8" stroke-width="2.48"/>
<path d="M852.7 1170.3L866 1170.3" stroke-width="1.55"/>
<path d="M852.7 1198.3L866 1198.3" stroke-width="1.55"/>
<path d="M852.7 1172.3 H846 V1177.3 H843 V1191.3 H846 V1196.3 H852.7" stroke-width="1.55"/>
<path d="M843 1178.3 A6 6 0 0 0 843 1190.3" stroke-width="1.55"/>
<circle cx="859.4" cy="1184.3" r="6.7" fill="#fbfbfb" stroke-width="1.71"/>
<rect x="868.7" y="1170.3" width="70.8" height="28" stroke-width="1.86"/>
<circle cx="892.8" cy="1184.3" r="12.8" fill="#fbfbfb" stroke-width="1.86"/>
<circle cx="925.6" cy="1184.3" r="9.4" fill="#fbfbfb" stroke-width="1.86"/>
<path d="M912 1177.8 A6 7 0 0 0 912 1190.8" stroke-width="1.55"/>
<path d="M880 1147.3 H921.5 Q927.5 1147.3 927.5 1153.3 V1167.3 H874 V1153.3 Q874 1147.3 880 1147.3 Z" stroke-width="1.86"/>
<rect x="886" y="1198.3" width="13.4" height="11" stroke-width="2.17"/>
<rect x="920.8" y="1156.3" width="13.4" height="53" stroke-width="2.17"/>
<path d="M920.8 1170.3L934.2 1170.3" stroke-width="1.55"/>
<path d="M920.8 1198.3L934.2 1198.3" stroke-width="1.55"/>
<rect x="887.4" y="1158.6" width="12" height="8" stroke-width="1.86"/>
<path d="M889 1160.3L898 1160.3" stroke-width="1.55" stroke-dasharray="2 1"/>
<path d="M889 1162.8L898 1162.8" stroke-width="1.55" stroke-dasharray="2 1"/>
<path d="M889 1165.3L898 1165.3" stroke-width="1.55" stroke-dasharray="2 1"/>
<path d="M921 1165.3 q4 -6 8 0" stroke-width="1.86"/>
<rect x="939.5" y="1172.3" width="14.7" height="24" stroke-width="1.86"/>
<rect x="954.2" y="1176.3" width="26.8" height="16" stroke-width="1.86"/>
<path d="M957 1176.3L957 1192.3" stroke-width="1.4"/>
<path d="M978 1176.3L978 1192.3" stroke-width="1.4"/>
<rect x="981" y="1180.3" width="3" height="8" stroke-width="1.55"/>
<path d="M985.5 1110.8L985.5 1239" stroke-width="1.55"/>
<rect x="986.3" y="1111.3" width="20" height="22" stroke-width="1.4" stroke-dasharray="3 2"/>
<path d="M986.3 1111.3 L1006.3 1133.3 M1006.3 1111.3 L986.3 1133.3" stroke-width="1.24" stroke-dasharray="3 2"/>
<rect x="986.3" y="1133.5" width="23.2" height="21.8" stroke-width="1.55"/>
<path d="M986.3 1133.5L1009.5 1155.3" stroke-width="1.24"/>
<path d="M986.3 1155.3L1009.5 1133.5" stroke-width="1.24"/>
<path d="M986.3 1155.3 L1009.5 1133.5" stroke-width="1.24" stroke-dasharray="3 2"/>
<rect x="986.3" y="1213.6" width="23.2" height="25.4" stroke-width="1.55"/>
<path d="M986.3 1213.6L1009.5 1239" stroke-width="1.24"/>
<path d="M986.3 1239L1009.5 1213.6" stroke-width="1.24"/>
<path d="M1006.3 1111.3L1006.3 1213.3" stroke-width="1.4" stroke-dasharray="3 2"/>
<ellipse cx="1121.7" cy="1183.4" rx="4.8" ry="26" stroke-width="1.4" stroke-dasharray="2 1.5"/>
<path d="M1108 1174.3 q6 4 8 10 M1108 1194.3 q6 -4 8 -10 M1113 1181.3 H1130 l4 3 l-4 3 H1113" stroke-width="1.4"/>
</g>
<g >
<path d="M188.5 1208.3L148.5 1366" stroke-width="1.26"/>
<path d="M237.6 1197L199 1366" stroke-width="1.26"/>
<path d="M263.3 1283L243 1368" stroke-width="1.26"/>
<path d="M359 1296L243 1368" stroke-width="1.26"/>
<path d="M400.2 1180.3L369 1366" stroke-width="1.26"/>
<path d="M508.5 1214.3L492.5 1366" stroke-width="1.26"/>
<path d="M590 1306.5L579.5 1366" stroke-width="1.26"/>
<path d="M711.3 1227.4L690.5 1366" stroke-width="1.26"/>
<path d="M723.3 1304L716 1366" stroke-width="1.26"/>
<path d="M861.6 1232.4L842.5 1366" stroke-width="1.26"/>
<path d="M916.8 1284.5L907.4 1368.7" stroke-width="1.26"/>
<path d="M962.2 1281.8L907.4 1368.7" stroke-width="1.26"/>
<path d="M1031.7 1199L986.3 1368" stroke-width="1.26"/>
<path d="M1107.8 1223L1075.8 1368" stroke-width="1.26"/>
<text x="147.8" y="1394" font-family="&quot;Liberation Serif&quot;, serif" font-size="22" font-weight="600" text-anchor="middle" fill="#0e0e0e" stroke="none">5</text>
<text x="199.4" y="1394" font-family="&quot;Liberation Serif&quot;, serif" font-size="22" font-weight="600" text-anchor="middle" fill="#0e0e0e" stroke="none">3</text>
<text x="244" y="1394" font-family="&quot;Liberation Serif&quot;, serif" font-size="22" font-weight="600" text-anchor="middle" fill="#0e0e0e" stroke="none">5</text>
<text x="374.2" y="1393" font-family="&quot;Liberation Serif&quot;, serif" font-size="22" font-weight="600" text-anchor="middle" fill="#0e0e0e" stroke="none">14</text>
<text x="495" y="1392" font-family="&quot;Liberation Serif&quot;, serif" font-size="22" font-weight="600" text-anchor="middle" fill="#0e0e0e" stroke="none">15</text>
<text x="571" y="1392" font-family="&quot;Liberation Serif&quot;, serif" font-size="22" font-weight="600" text-anchor="middle" fill="#0e0e0e" stroke="none">4</text>
<text x="687.9" y="1392" font-family="&quot;Liberation Serif&quot;, serif" font-size="22" font-weight="600" text-anchor="middle" fill="#0e0e0e" stroke="none">15</text>
<text x="714.5" y="1392" font-family="&quot;Liberation Serif&quot;, serif" font-size="22" font-weight="600" text-anchor="middle" fill="#0e0e0e" stroke="none">4</text>
<text x="843.8" y="1392.5" font-family="&quot;Liberation Serif&quot;, serif" font-size="22" font-weight="600" text-anchor="middle" fill="#0e0e0e" stroke="none">16</text>
<text x="906.6" y="1392.5" font-family="&quot;Liberation Serif&quot;, serif" font-size="22" font-weight="600" text-anchor="middle" fill="#0e0e0e" stroke="none">5</text>
<text x="982.2" y="1390.5" font-family="&quot;Liberation Serif&quot;, serif" font-size="22" font-weight="600" text-anchor="middle" fill="#0e0e0e" stroke="none">3</text>
<text x="1069" y="1391" font-family="&quot;Liberation Serif&quot;, serif" font-size="22" font-weight="600" text-anchor="middle" fill="#0e0e0e" stroke="none">5</text>
</g>
<g transform="translate(304.8 1870) skewX(0.33) translate(0 -1870)">
<path d="M-216.5 1813.5C-217.9 1817.2 -222.9 1827.9 -225 1835.8C-227.1 1843.7 -228.6 1853.5 -229.2 1861C-229.8 1868.5 -229.5 1874.5 -228.7 1881C-227.9 1887.5 -226.5 1892.3 -224.5 1900C-222.5 1907.7 -220.2 1917.2 -216.5 1927C-212.8 1936.8 -208.2 1948.2 -202.5 1959C-196.8 1969.8 -189.9 1982 -182.5 1992C-175.1 2002 -166.9 2010.8 -158 2019C-149.1 2027.2 -139.5 2035.6 -129.3 2041.4C-119.1 2047.2 -109 2050.8 -97 2054C-85 2057.2 -73.7 2059.2 -57.5 2060.8C-41.3 2062.4 -19.2 2063.5 0 2063.5C19.2 2063.5 41.3 2062.4 57.5 2060.8C73.7 2059.2 85 2057.2 97 2054C109 2050.8 119.1 2047.2 129.3 2041.4C139.5 2035.6 149.1 2027.2 158 2019C166.9 2010.8 175.1 2002 182.5 1992C189.9 1982 196.8 1969.8 202.5 1959C208.2 1948.2 212.8 1936.8 216.5 1927C220.2 1917.2 222.5 1907.7 224.5 1900C226.5 1892.3 227.9 1887.5 228.7 1881C229.5 1874.5 229.8 1868.5 229.2 1861C228.6 1853.5 227.1 1843.7 225 1835.8C222.9 1827.9 217.9 1817.2 216.5 1813.5" stroke-width="2.4"/>
<path d="M-210.5 1815C-212 1818.5 -217.1 1828.3 -219.3 1836C-221.5 1843.7 -223 1853.5 -223.6 1861C-224.2 1868.5 -223.9 1874.7 -223.1 1881C-222.3 1887.3 -221 1891.6 -219 1899C-217 1906.4 -214.7 1915.8 -211 1925.5C-207.3 1935.2 -202.6 1946.4 -197 1957C-191.4 1967.6 -184.8 1979.2 -177.5 1989C-170.2 1998.8 -161.2 2007.8 -153 2015.5C-144.8 2023.2 -132.2 2032.2 -128 2035.5" stroke-width="1.6"/>
<path d="M-128 2035.5L-131 2040.5" stroke-width="1.6"/>
<path d="M-216.5 1813.5L-210.3 1784" stroke-width="2.08"/>
<ellipse cx="-210" cy="1783" rx="2.2" ry="1.5" fill="#222" stroke-width="1.6"/>
<path d="M-216.5 1813.5L-73 1804.5" stroke-width="3.04"/>
<path d="M-201 1818.3L-71 1811" stroke-width="1.6"/>
<path d="M-215.5 1814.5L-202 1818.6L-217.5 1834Z" stroke-width="1.6"/>
<path d="M-211 1818L-207 1820" stroke-width="1.28" stroke-dasharray="2 1.5"/>
<path d="M-225 1874.3L-71.5 1864.2" stroke-width="2.08"/>
<path d="M-209.5 1878L-71.5 1870" stroke-width="1.6"/>
<path d="M-224.5 1875L-209.5 1877.5L-220.3 1890Z" stroke-width="1.6"/>
<path d="M-218 1878.5L-214 1880.5" stroke-width="1.28" stroke-dasharray="2 1.5"/>
<path d="M-136.2 1867.6L-71.5 1863.2" stroke-width="2.24"/>
<path d="M-109 1807L-109 1866.4" stroke-width="1.76"/>
<path d="M-136.2 1869 V2016 M-134 1869 V2016" stroke-width="1.6"/>
<path d="M-82.5 1804.3 V1784 H-71" stroke-width="1.76"/>
<path d="M-82.5 1804.3L-73 1804.3" stroke-width="2.24"/>
<path d="M-52.3 1736 V1933.5 M-71 1736 V1933.5" stroke-width="1.92"/>
<path d="M-50 1934.2L-74.5 1934.2" stroke-width="3.84"/>
<circle cx="-61.2" cy="1716" r="18.4" stroke-width="2.08"/>
<ellipse cx="-61.5" cy="1735.5" rx="11" ry="1.6" stroke-width="1.6"/>
<path d="M-50.5 1737L-72.5 1737" stroke-width="2.24"/>
<path d="M-25.5 1591L-72 1779.5" stroke-width="1.76"/>
<path d="M-32.5 1789 V1832 C-33 1850 -40 1858 -52.3 1863" stroke-width="1.76"/>
<path d="M-52.3 1863 L-71.5 1870.5" stroke-width="1.6" stroke-dasharray="5 2.5"/>
<path d="M-71.5 1870.5C-75.1 1871.9 -87.5 1876.1 -93 1879C-98.5 1881.9 -102 1885.6 -104.5 1888C-107 1890.4 -106.5 1890.8 -108 1893.5C-109.5 1896.2 -111.2 1899.5 -113.5 1904.3C-115.8 1909.1 -119.7 1916.2 -122 1922.3C-124.3 1928.4 -126.5 1934.9 -127.5 1941C-128.5 1947.1 -128.9 1952.3 -128 1959C-127.1 1965.7 -125.2 1974.4 -122 1981C-118.8 1987.6 -114 1993.8 -109 1998.5C-104 2003.2 -98.4 2006.9 -92 2009.5C-85.6 2012.1 -77.8 2013.6 -70.5 2014C-63.2 2014.4 -55.8 2014.2 -48.5 2012C-41.2 2009.8 -32.8 2005.4 -27 2000.5C-21.2 1995.6 -17.2 1988.9 -14 1982.5C-10.8 1976.1 -8.5 1968.4 -7.5 1962C-6.5 1955.6 -7.2 1949.5 -8 1944C-8.8 1938.5 -11.8 1931.5 -12.5 1929" stroke-width="1.92"/>
<path d="M-12.5 1929C-13.6 1927 -16.6 1920.3 -19 1917C-21.4 1913.7 -22.5 1912.1 -27 1909C-31.5 1905.9 -39 1900.9 -46 1898.5C-53 1896.1 -61.5 1894.7 -69 1894.5C-76.5 1894.3 -84.5 1895.4 -91 1897.5C-97.5 1899.6 -103.3 1903.5 -108 1907C-112.7 1910.5 -116.6 1915.7 -119 1918.5C-121.4 1921.3 -121.9 1923.1 -122.5 1924" stroke-width="1.76" stroke-dasharray="6 3"/>
<path d="M-108 1893L-11 1899.5" stroke-width="1.6"/>
<path d="M-8 1930L-122.5 1930" stroke-width="1.6"/>
<circle cx="-99.3" cy="1979" r="17.3" stroke-width="1.92"/>
<circle cx="-99.3" cy="1979" r="14.5" stroke-width="1.76"/>
<circle cx="-99.3" cy="1979" r="0.6" fill="#222" stroke-width="0.96"/>
<circle cx="-66.8" cy="1996" r="17.3" stroke-width="1.92"/>
<circle cx="-66.8" cy="1996" r="14.5" stroke-width="1.76"/>
<circle cx="-66.8" cy="1996" r="0.6" fill="#222" stroke-width="0.96"/>
<circle cx="-34" cy="1980" r="17.3" stroke-width="1.92"/>
<circle cx="-34" cy="1980" r="14.5" stroke-width="1.76"/>
<circle cx="-34" cy="1980" r="0.6" fill="#222" stroke-width="0.96"/>
<path d="M-226 1907.5L-290 1907.5" stroke-width="2.08"/>
<path d="M-226 1910.8L-290 1910.8" stroke-width="1.6"/>
<path d="M-146.5 2018L-114 2024.5" stroke-width="1.6"/>
<path d="M-116.5 2025.5L-124 2040" stroke-width="1.6"/>
<g transform="rotate(-20 -211 1925.5)">
<path d="M-213 1925.5L-202 1925.5" stroke-width="3.2"/>
<path d="M-202 1921.5L-202 1928.5" stroke-width="2.24"/>
</g>
<g transform="rotate(-33 -190 1971.5)">
<path d="M-192 1971.5L-181 1971.5" stroke-width="3.2"/>
<path d="M-181 1967.5L-181 1974.5" stroke-width="2.24"/>
</g>
<g transform="rotate(-48 -155.5 2014)">
<path d="M-157.5 2014L-146.5 2014" stroke-width="3.2"/>
<path d="M-146.5 2010L-146.5 2017" stroke-width="2.24"/>
</g>
<path d="M210.5 1815C212 1818.5 217.1 1828.3 219.3 1836C221.5 1843.7 223 1853.5 223.6 1861C224.2 1868.5 223.9 1874.7 223.1 1881C222.3 1887.3 221 1891.6 219 1899C217 1906.4 214.7 1915.8 211 1925.5C207.3 1935.2 202.6 1946.4 197 1957C191.4 1967.6 184.8 1979.2 177.5 1989C170.2 1998.8 161.2 2007.8 153 2015.5C144.8 2023.2 132.2 2032.2 128 2035.5" stroke-width="1.6"/>
<path d="M128 2035.5L131 2040.5" stroke-width="1.6"/>
<path d="M216.5 1813.5L210.3 1784" stroke-width="2.08"/>
<ellipse cx="210" cy="1783" rx="2.2" ry="1.5" fill="#222" stroke-width="1.6"/>
<path d="M216.5 1813.5L73 1804.5" stroke-width="3.04"/>
<path d="M201 1818.3L71 1811" stroke-width="1.6"/>
<path d="M215.5 1814.5L202 1818.6L217.5 1834Z" stroke-width="1.6"/>
<path d="M211 1818L207 1820" stroke-width="1.28" stroke-dasharray="2 1.5"/>
<path d="M225 1874.3L71.5 1864.2" stroke-width="2.08"/>
<path d="M209.5 1878L71.5 1870" stroke-width="1.6"/>
<path d="M224.5 1875L209.5 1877.5L220.3 1890Z" stroke-width="1.6"/>
<path d="M218 1878.5L214 1880.5" stroke-width="1.28" stroke-dasharray="2 1.5"/>
<path d="M136.2 1867.6L71.5 1863.2" stroke-width="2.24"/>
<path d="M109 1807L109 1866.4" stroke-width="1.76"/>
<path d="M136.2 1869 V2016 M134 1869 V2016" stroke-width="1.6"/>
<path d="M82.5 1804.3 V1784 H71" stroke-width="1.76"/>
<path d="M82.5 1804.3L73 1804.3" stroke-width="2.24"/>
<path d="M52.3 1736 V1933.5 M71 1736 V1933.5" stroke-width="1.92"/>
<path d="M50 1934.2L74.5 1934.2" stroke-width="3.84"/>
<circle cx="61.2" cy="1716" r="18.4" stroke-width="2.08"/>
<ellipse cx="61.5" cy="1735.5" rx="11" ry="1.6" stroke-width="1.6"/>
<path d="M50.5 1737L72.5 1737" stroke-width="2.24"/>
<path d="M25.5 1591L72 1779.5" stroke-width="1.76"/>
<path d="M32.5 1789 V1832 C33 1850 40 1858 52.3 1863" stroke-width="1.76"/>
<path d="M52.3 1863 L71.5 1870.5" stroke-width="1.6" stroke-dasharray="5 2.5"/>
<path d="M71.5 1870.5C75.1 1871.9 87.5 1876.1 93 1879C98.5 1881.9 102 1885.6 104.5 1888C107 1890.4 106.5 1890.8 108 1893.5C109.5 1896.2 111.2 1899.5 113.5 1904.3C115.8 1909.1 119.7 1916.2 122 1922.3C124.3 1928.4 126.5 1934.9 127.5 1941C128.5 1947.1 128.9 1952.3 128 1959C127.1 1965.7 125.2 1974.4 122 1981C118.8 1987.6 114 1993.8 109 1998.5C104 2003.2 98.4 2006.9 92 2009.5C85.6 2012.1 77.8 2013.6 70.5 2014C63.2 2014.4 55.8 2014.2 48.5 2012C41.2 2009.8 32.8 2005.4 27 2000.5C21.2 1995.6 17.2 1988.9 14 1982.5C10.8 1976.1 8.5 1968.4 7.5 1962C6.5 1955.6 7.2 1949.5 8 1944C8.8 1938.5 11.8 1931.5 12.5 1929" stroke-width="1.92"/>
<path d="M12.5 1929C13.6 1927 16.6 1920.3 19 1917C21.4 1913.7 22.5 1912.1 27 1909C31.5 1905.9 39 1900.9 46 1898.5C53 1896.1 61.5 1894.7 69 1894.5C76.5 1894.3 84.5 1895.4 91 1897.5C97.5 1899.6 103.3 1903.5 108 1907C112.7 1910.5 116.6 1915.7 119 1918.5C121.4 1921.3 121.9 1923.1 122.5 1924" stroke-width="1.76" stroke-dasharray="6 3"/>
<path d="M108 1893L11 1899.5" stroke-width="1.6"/>
<path d="M8 1930L122.5 1930" stroke-width="1.6"/>
<circle cx="99.3" cy="1979" r="17.3" stroke-width="1.92"/>
<circle cx="99.3" cy="1979" r="14.5" stroke-width="1.76"/>
<circle cx="99.3" cy="1979" r="0.6" fill="#222" stroke-width="0.96"/>
<circle cx="66.8" cy="1996" r="17.3" stroke-width="1.92"/>
<circle cx="66.8" cy="1996" r="14.5" stroke-width="1.76"/>
<circle cx="66.8" cy="1996" r="0.6" fill="#222" stroke-width="0.96"/>
<circle cx="34" cy="1980" r="17.3" stroke-width="1.92"/>
<circle cx="34" cy="1980" r="14.5" stroke-width="1.76"/>
<circle cx="34" cy="1980" r="0.6" fill="#222" stroke-width="0.96"/>
<path d="M226 1907.5L290 1907.5" stroke-width="2.08"/>
<path d="M226 1910.8L290 1910.8" stroke-width="1.6"/>
<path d="M146.5 2018L114 2024.5" stroke-width="1.6"/>
<path d="M116.5 2025.5L124 2040" stroke-width="1.6"/>
<g transform="rotate(20 211 1925.5)">
<path d="M213 1925.5L202 1925.5" stroke-width="3.2"/>
<path d="M202 1921.5L202 1928.5" stroke-width="2.24"/>
</g>
<g transform="rotate(33 190 1971.5)">
<path d="M192 1971.5L181 1971.5" stroke-width="3.2"/>
<path d="M181 1967.5L181 1974.5" stroke-width="2.24"/>
</g>
<g transform="rotate(48 155.5 2014)">
<path d="M157.5 2014L146.5 2014" stroke-width="3.2"/>
<path d="M146.5 2010L146.5 2017" stroke-width="2.24"/>
</g>
<path d="M-35.5 1544.9 Q0 1540.2 35.5 1544.9" stroke-width="3.04"/>
<path d="M-35.5 1544.5 V1754 L-44.3 1776.5 H44.3 L35.5 1754 V1544.5" stroke-width="1.92"/>
<path d="M-35.5 1754L35.5 1754" stroke-width="1.44"/>
<path d="M-37 1599 Q0 1595 37 1599 M-37 1602 Q0 1598 37 1602" stroke-width="1.92"/>
<path d="M-37 1598.5 V1602.5 M37 1598.5 V1602.5" stroke-width="2.08"/>
<path d="M-71 1778.5L72 1778.5" stroke-width="1.76"/>
<path d="M-30 1785.6 H36 M-30 1789 H36" stroke-width="1.76"/>
<path d="M-66 1804.2L70 1804.2" stroke-width="3.52" stroke-dasharray="7 3"/>
<path d="M0 1518.4L0 2082" stroke-width="1.6" stroke-dasharray="16 4 2.5 4"/>
<path d="M-226 1907.8L226 1907.8" stroke-width="1.44"/>
<path d="M-136.2 2016L136.2 2016" stroke-width="1.76"/>
<path d="M-105 2025.4L104 2025.4" stroke-width="3.2"/>
<path d="M-95.6 2026L-95.6 2054.3" stroke-width="1.76"/>
<path d="M-63.6 2026L-63.6 2059.7" stroke-width="1.76"/>
<path d="M-30.6 2026L-30.6 2062.7" stroke-width="1.76"/>
<path d="M33.4 2026L33.4 2062.6" stroke-width="1.76"/>
<path d="M65.9 2026L65.9 2059.4" stroke-width="1.76"/>
<path d="M97.4 2026L97.4 2053.9" stroke-width="1.76"/>
<path d="M-10.5 1899 C-8 1888 -5 1879 0 1871.5 C5 1879 8 1888 10.5 1899" stroke-width="1.76"/>
<rect x="-8" y="1899" width="15.5" height="31.5" stroke-width="1.92"/>
<path d="M-10.5 1899 C-11 1915 -10 1924 -7 1930 M10.5 1899 C11 1915 10 1924 7 1930" stroke-width="1.6"/>
<path d="M-249 1926.8L-217 1926.8" stroke-width="1.6"/>
<path d="M-255 1942.5L-220 1942.5" stroke-width="1.6"/>
<path d="M-251.5 1962.4L-206 1962.4" stroke-width="1.6"/>
<path d="M218 1928.7L255 1928.7" stroke-width="1.6"/>
<path d="M225 1943L255 1943" stroke-width="1.6"/>
<path d="M207 1962L255 1962" stroke-width="1.6"/>
</g>
<g >
<path d="M165 2154.6L427.3 2153.8" stroke-width="1.92"/>
<path d="M165 2158.6L427.3 2157.8" stroke-width="3.2"/>
<path d="M165 2137.8L165 2158" stroke-width="1.76"/>
<path d="M218.2 2137.8L218.2 2158" stroke-width="1.76"/>
<path d="M272 2137.8L272 2158" stroke-width="1.76"/>
<path d="M324.8 2137.8L324.8 2158" stroke-width="1.76"/>
<path d="M376.9 2137.8L376.9 2158" stroke-width="1.76"/>
<path d="M427.3 2137.8L427.3 2158" stroke-width="1.76"/>
<path d="M192.1 2150L192.1 2158" stroke-width="1.6"/>
<text x="165" y="2130" font-family="&quot;Liberation Serif&quot;, serif" font-size="23" text-anchor="middle" fill="#0e0e0e" stroke="none">2</text>
<text x="191.8" y="2130" font-family="&quot;Liberation Serif&quot;, serif" font-size="23" text-anchor="middle" fill="#0e0e0e" stroke="none">1</text>
<text x="217.8" y="2130" font-family="&quot;Liberation Serif&quot;, serif" font-size="23" text-anchor="middle" fill="#0e0e0e" stroke="none">0</text>
<text x="273.4" y="2130" font-family="&quot;Liberation Serif&quot;, serif" font-size="23" text-anchor="middle" fill="#0e0e0e" stroke="none">2</text>
<text x="323" y="2130" font-family="&quot;Liberation Serif&quot;, serif" font-size="23" text-anchor="middle" fill="#0e0e0e" stroke="none">4</text>
<text x="376.2" y="2130" font-family="&quot;Liberation Serif&quot;, serif" font-size="23" text-anchor="middle" fill="#0e0e0e" stroke="none">6</text>
<text x="428" y="2130" font-family="&quot;Liberation Serif&quot;, serif" font-size="23" text-anchor="middle" fill="#0e0e0e" stroke="none">8</text>
<text x="449.5" y="2130" font-family="&quot;Liberation Serif&quot;, serif" font-size="21" text-anchor="middle" fill="#0e0e0e" stroke="none">м</text>
</g>
<g >
<path d="M629 1512 L646 1522.5 L629 1533 Z" fill="#161616"/>
<text x="662.6" y="1530.6" font-family="&quot;Liberation Sans&quot;, sans-serif" font-size="30" textLength="188" lengthAdjust="spacing" fill="#2a2a2a" stroke="none">[ рис. 184 а ]</text>
<text x="886.5" y="1530.6" font-family="&quot;Liberation Serif&quot;, serif" font-size="37.6" textLength="435.5" lengthAdjust="spacing" fill="#0e0e0e" stroke="none">Ледокол «Козьма Минин»;</text>
<text x="887.6" y="1572.7" font-family="&quot;Liberation Sans&quot;, sans-serif" font-size="30" fill="#2a2a2a" stroke="none">а)</text>
<text x="922" y="1572.7" font-family="&quot;Liberation Serif&quot;, serif" font-size="37.6" textLength="322" lengthAdjust="spacing" fill="#0e0e0e" stroke="none">продольный разрез,</text>
<text x="887.6" y="1614.7" font-family="&quot;Liberation Sans&quot;, sans-serif" font-size="30" fill="#2a2a2a" stroke="none">б)</text>
<text x="923" y="1614.7" font-family="&quot;Liberation Serif&quot;, serif" font-size="37.6" textLength="257" lengthAdjust="spacing" fill="#0e0e0e" stroke="none">верхняя палуба,</text>
<text x="1192" y="1614.7" font-family="&quot;Liberation Sans&quot;, sans-serif" font-size="30" fill="#2a2a2a" stroke="none">в)</text>
<text x="1228" y="1614.7" font-family="&quot;Liberation Serif&quot;, serif" font-size="37.6" textLength="244" lengthAdjust="spacing" fill="#0e0e0e" stroke="none">нижняя палуба</text>
<circle cx="645" cy="1652.5" r="19" stroke-width="1.33"/>
<text x="645" y="1660.7" font-family="&quot;Liberation Sans&quot;, sans-serif" font-size="23" text-anchor="middle" fill="#222" stroke="none">1</text>
<text x="683.9" y="1663" font-family="&quot;Liberation Serif&quot;, serif" font-size="37.6" textLength="287.6" lengthAdjust="spacing" fill="#0e0e0e" stroke="none">рулевая машинка,</text>
<circle cx="1002.6" cy="1652.5" r="19" stroke-width="1.33"/>
<text x="1002.6" y="1660.7" font-family="&quot;Liberation Sans&quot;, sans-serif" font-size="23" text-anchor="middle" fill="#222" stroke="none">2</text>
<text x="1040.4" y="1663" font-family="&quot;Liberation Serif&quot;, serif" font-size="37.6" textLength="308.6" lengthAdjust="spacing" fill="#0e0e0e" stroke="none">жилые помещения,</text>
<circle cx="645" cy="1698.1" r="19" stroke-width="1.33"/>
<text x="645" y="1706.3" font-family="&quot;Liberation Sans&quot;, sans-serif" font-size="23" text-anchor="middle" fill="#222" stroke="none">3</text>
<text x="683.9" y="1708.6" font-family="&quot;Liberation Serif&quot;, serif" font-size="37.6" textLength="95.8" lengthAdjust="spacing" fill="#0e0e0e" stroke="none">трюм,</text>
<circle cx="805.5" cy="1698.1" r="19" stroke-width="1.33"/>
<text x="805.5" y="1706.3" font-family="&quot;Liberation Sans&quot;, sans-serif" font-size="23" text-anchor="middle" fill="#222" stroke="none">4</text>
<text x="844.5" y="1708.6" font-family="&quot;Liberation Serif&quot;, serif" font-size="37.6" textLength="222.8" lengthAdjust="spacing" fill="#0e0e0e" stroke="none">угольная яма,</text>
<circle cx="1092.5" cy="1698.1" r="19" stroke-width="1.33"/>
<text x="1092.5" y="1706.3" font-family="&quot;Liberation Sans&quot;, sans-serif" font-size="23" text-anchor="middle" fill="#222" stroke="none">5</text>
<text x="1132" y="1708.6" font-family="&quot;Liberation Serif&quot;, serif" font-size="37.6" textLength="154" lengthAdjust="spacing" fill="#0e0e0e" stroke="none">цистерна,</text>
<circle cx="1313" cy="1697.4" r="19" stroke-width="1.33"/>
<text x="1313" y="1705.6" font-family="&quot;Liberation Sans&quot;, sans-serif" font-size="23" text-anchor="middle" fill="#222" stroke="none">6</text>
<text x="1352" y="1708.6" font-family="&quot;Liberation Serif&quot;, serif" font-size="37.6" textLength="113.8" lengthAdjust="spacing" fill="#0e0e0e" stroke="none">цепной</text>
<text x="627" y="1754.8" font-family="&quot;Liberation Serif&quot;, serif" font-size="37.6" textLength="95.8" lengthAdjust="spacing" fill="#0e0e0e" stroke="none">ящик,</text>
<circle cx="748.6" cy="1744.3" r="19" stroke-width="1.33"/>
<text x="748.6" y="1752.5" font-family="&quot;Liberation Sans&quot;, sans-serif" font-size="23" text-anchor="middle" fill="#222" stroke="none">7</text>
<text x="788.7" y="1754.8" font-family="&quot;Liberation Serif&quot;, serif" font-size="37.6" textLength="269.7" lengthAdjust="spacing" fill="#0e0e0e" stroke="none">моторный катер,</text>
<circle cx="1084" cy="1744.3" r="19" stroke-width="1.33"/>
<text x="1084" y="1752.5" font-family="&quot;Liberation Sans&quot;, sans-serif" font-size="23" text-anchor="middle" fill="#222" stroke="none">8</text>
<text x="1123" y="1754.8" font-family="&quot;Liberation Serif&quot;, serif" font-size="37.6" textLength="285.9" lengthAdjust="spacing" fill="#0e0e0e" stroke="none">шлюпка четверка,</text>
<circle cx="645" cy="1790.4" r="19" stroke-width="1.33"/>
<text x="645" y="1798.6" font-family="&quot;Liberation Sans&quot;, sans-serif" font-size="23" text-anchor="middle" fill="#222" stroke="none">9</text>
<text x="683.9" y="1800.9" font-family="&quot;Liberation Serif&quot;, serif" font-size="37.6" textLength="258.8" lengthAdjust="spacing" fill="#0e0e0e" stroke="none">каюта капитана,</text>
<circle cx="971.5" cy="1790.4" r="19" stroke-width="1.33"/>
<text x="971" y="1798.6" font-family="&quot;Liberation Sans&quot;, sans-serif" font-size="23" text-anchor="middle" letter-spacing="-1.5" fill="#222" stroke="none">10</text>
<text x="1010.4" y="1800.9" font-family="&quot;Liberation Serif&quot;, serif" font-size="37.6" textLength="131.6" lengthAdjust="spacing" fill="#0e0e0e" stroke="none">лебедка,</text>
<circle cx="1169" cy="1790.4" r="19" stroke-width="1.33"/>
<text x="1168.5" y="1798.6" font-family="&quot;Liberation Sans&quot;, sans-serif" font-size="23" text-anchor="middle" letter-spacing="-1.5" fill="#222" stroke="none">11</text>
<text x="1210" y="1800.9" font-family="&quot;Liberation Serif&quot;, serif" font-size="37.6" textLength="167.7" lengthAdjust="spacing" fill="#0e0e0e" stroke="none">брашпиль,</text>
<circle cx="645" cy="1836.7" r="19" stroke-width="1.33"/>
<text x="644.5" y="1844.9" font-family="&quot;Liberation Sans&quot;, sans-serif" font-size="23" text-anchor="middle" letter-spacing="-1.5" fill="#222" stroke="none">12</text>
<text x="683.9" y="1847.2" font-family="&quot;Liberation Serif&quot;, serif" font-size="37.6" textLength="278.6" lengthAdjust="spacing" fill="#0e0e0e" stroke="none">шлюпка ледянка,</text>
<circle cx="989.5" cy="1836.7" r="19" stroke-width="1.33"/>
<text x="989" y="1844.9" font-family="&quot;Liberation Sans&quot;, sans-serif" font-size="23" text-anchor="middle" letter-spacing="-1.5" fill="#222" stroke="none">13</text>
<text x="1028.4" y="1847.2" font-family="&quot;Liberation Serif&quot;, serif" font-size="37.6" textLength="358.3" lengthAdjust="spacing" fill="#0e0e0e" stroke="none">спасательная шлюпка,</text>
<circle cx="645" cy="1883" r="19" stroke-width="1.33"/>
<text x="644.5" y="1891.2" font-family="&quot;Liberation Sans&quot;, sans-serif" font-size="23" text-anchor="middle" letter-spacing="-1.5" fill="#222" stroke="none">14</text>
<text x="683.9" y="1893.5" font-family="&quot;Liberation Serif&quot;, serif" font-size="37.6" textLength="506.3" lengthAdjust="spacing" fill="#0e0e0e" stroke="none">кормовое машинное отделение,</text>
<circle cx="1217" cy="1882" r="19" stroke-width="1.33"/>
<text x="1216.5" y="1890.2" font-family="&quot;Liberation Sans&quot;, sans-serif" font-size="23" text-anchor="middle" letter-spacing="-1.5" fill="#222" stroke="none">15</text>
<text x="1257.3" y="1893.5" font-family="&quot;Liberation Serif&quot;, serif" font-size="37.6" textLength="160.6" lengthAdjust="spacing" fill="#0e0e0e" stroke="none">котельное</text>
<text x="627" y="1940" font-family="&quot;Liberation Serif&quot;, serif" font-size="37.6" textLength="170.7" lengthAdjust="spacing" fill="#0e0e0e" stroke="none">отделение,</text>
<circle cx="826.5" cy="1929.5" r="19" stroke-width="1.33"/>
<text x="826" y="1937.7" font-family="&quot;Liberation Sans&quot;, sans-serif" font-size="23" text-anchor="middle" letter-spacing="-1.5" fill="#222" stroke="none">16</text>
<text x="865.4" y="1940" font-family="&quot;Liberation Serif&quot;, serif" font-size="37.6" textLength="470.4" lengthAdjust="spacing" fill="#0e0e0e" stroke="none">носовое машинное отделение</text>
<path d="M630 2132.5 L647 2143 L630 2153.5 Z" fill="#161616"/>
<text x="663" y="2151.5" font-family="&quot;Liberation Sans&quot;, sans-serif" font-size="30" textLength="191.5" lengthAdjust="spacing" fill="#2a2a2a" stroke="none">[ рис. 184 б ]</text>
<text x="890.6" y="2150.5" font-family="&quot;Liberation Serif&quot;, serif" font-size="37.6" textLength="435" lengthAdjust="spacing" fill="#0e0e0e" stroke="none">Ледокол «Козьма Минин»;</text>
<text x="891.8" y="2194" font-family="&quot;Liberation Serif&quot;, serif" font-size="37.6" textLength="374.5" lengthAdjust="spacing" fill="#0e0e0e" stroke="none">разрез по 65 шпангоуту</text>
<text x="87" y="143.5" font-family="&quot;Liberation Sans&quot;, sans-serif" font-size="32" fill="#222" stroke="none">а)</text>
<text x="79.5" y="714.5" font-family="&quot;Liberation Sans&quot;, sans-serif" font-size="31" fill="#222" stroke="none">б)</text>
<text x="78.6" y="1091.5" font-family="&quot;Liberation Sans&quot;, sans-serif" font-size="31" fill="#222" stroke="none">в)</text>
</g>
</g></svg></body></html>
